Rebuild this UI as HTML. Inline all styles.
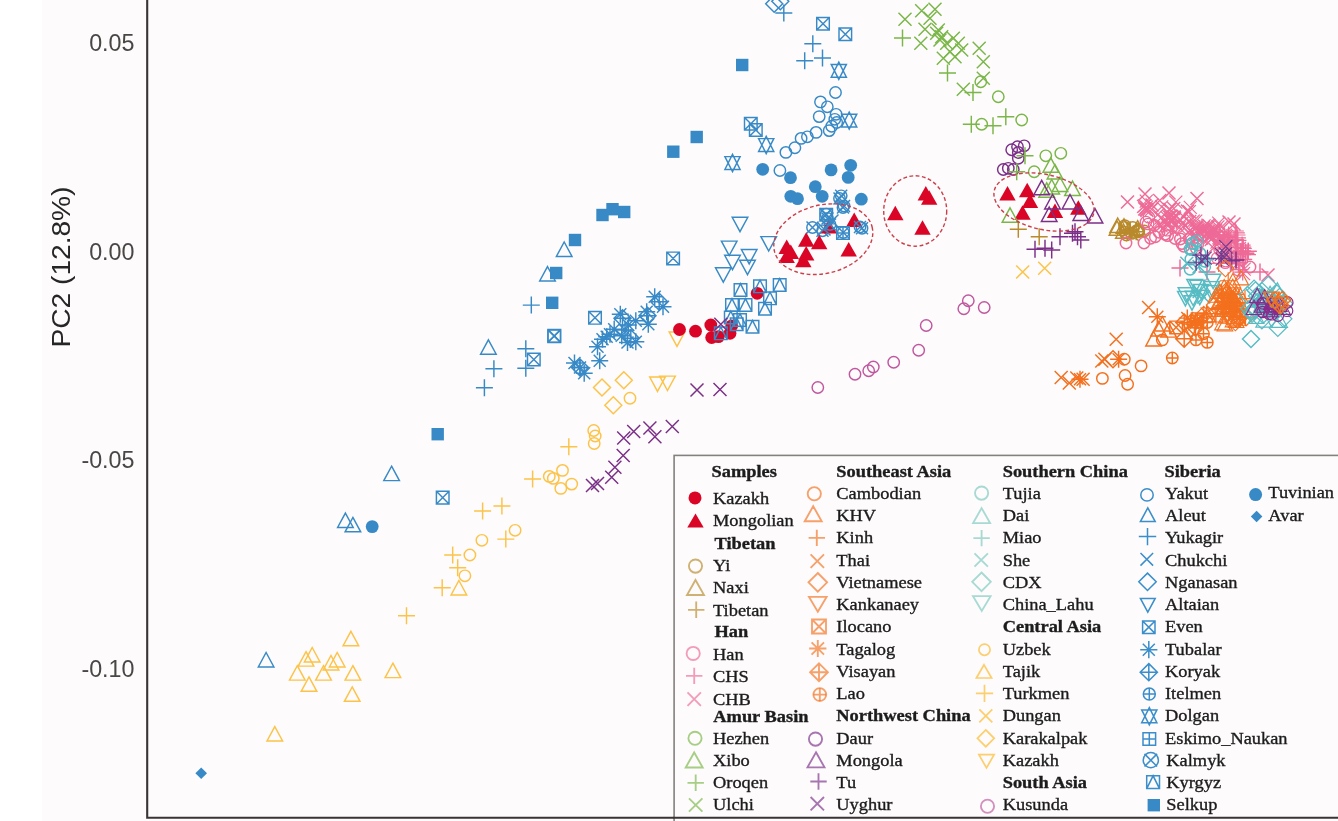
<!DOCTYPE html>
<html><head><meta charset="utf-8"><title>PCA</title>
<style>
html,body{margin:0;padding:0;background:#fdfbfb;}
body{width:1338px;height:821px;overflow:hidden;}
svg{display:block}
.ax{font-family:"Liberation Sans",sans-serif;fill:#4a4646;font-size:23.3px}
.leg text{font-family:"Liberation Serif",serif;font-size:17.2px;fill:#1c1c1c;stroke:#1c1c1c;stroke-width:0.35px}
</style></head><body>
<svg width="1338" height="821" viewBox="0 0 1338 821">
<rect width="1338" height="821" fill="#fdfbfb"/>
<rect width="42" height="821" fill="#ffffff"/>
<path d="M147.2 0V817.8H1338" fill="none" stroke="#393334" stroke-width="2.1"/>
<g class="ax">
<text x="134.5" y="51.1" text-anchor="end">0.05</text>
<text x="134.5" y="259.5" text-anchor="end">0.00</text>
<text x="134.5" y="468.2" text-anchor="end">-0.05</text>
<text x="134.5" y="677" text-anchor="end">-0.10</text>
<text transform="translate(70,347.5) rotate(-90)" font-size="25" fill="#262626" textLength="161" lengthAdjust="spacingAndGlyphs">PC2 (12.8%)</text>
</g>
<g>
<path d="M266.1 652.5L273.9 666.9H258.3Z" fill="none" stroke="#388ac7" stroke-width="1.45"/>
<path d="M201.2 767.5L207 773.3L201.2 779.1L195.4 773.3Z" fill="#388ac7"/>
<path d="M350.9 631.3L358.7 645.7H343.1Z" fill="none" stroke="#fcc348" stroke-width="1.45"/>
<path d="M312.2 647.5L320 661.9H304.4Z" fill="none" stroke="#fcc348" stroke-width="1.45"/>
<path d="M306 651.7L313.8 666.1H298.2Z" fill="none" stroke="#fcc348" stroke-width="1.45"/>
<path d="M337.2 652.5L345 666.9H329.4Z" fill="none" stroke="#fcc348" stroke-width="1.45"/>
<path d="M331 655.5L338.8 669.9H323.2Z" fill="none" stroke="#fcc348" stroke-width="1.45"/>
<path d="M297.3 665.7L305.1 680.1H289.5Z" fill="none" stroke="#fcc348" stroke-width="1.45"/>
<path d="M323.5 665.7L331.3 680.1H315.7Z" fill="none" stroke="#fcc348" stroke-width="1.45"/>
<path d="M352.9 665.7L360.7 680.1H345.1Z" fill="none" stroke="#fcc348" stroke-width="1.45"/>
<path d="M392.9 663.2L400.7 677.6H385.1Z" fill="none" stroke="#fcc348" stroke-width="1.45"/>
<path d="M309 676.9L316.8 691.3H301.2Z" fill="none" stroke="#fcc348" stroke-width="1.45"/>
<path d="M352.2 686.9L360 701.3H344.4Z" fill="none" stroke="#fcc348" stroke-width="1.45"/>
<path d="M274.8 726.6L282.6 741H267Z" fill="none" stroke="#fcc348" stroke-width="1.45"/>
<path d="M391.6 466.2L399.4 480.6H383.8Z" fill="none" stroke="#388ac7" stroke-width="1.45"/>
<path d="M345.4 513.1L353.2 527.5H337.6Z" fill="none" stroke="#388ac7" stroke-width="1.45"/>
<path d="M352.9 517.4L360.7 531.8H345.1Z" fill="none" stroke="#388ac7" stroke-width="1.45"/>
<circle cx="372.2" cy="526.6" r="6.4" fill="#388ac7"/>
<rect x="431.5" y="428" width="12.4" height="12.4" fill="#388ac7"/>
<path d="M436.4 491.3H449V503.9H436.4ZM436.4 491.3L449 503.9M436.4 503.9L449 491.3" fill="none" stroke="#388ac7" stroke-width="1.45"/>
<path d="M560.3 446.7H577.3M568.8 438.2V455.2" fill="none" stroke="#fcc348" stroke-width="1.45"/>
<path d="M524.1 478.9H541.1M532.6 470.4V487.4" fill="none" stroke="#fcc348" stroke-width="1.45"/>
<path d="M493.4 505.9H510.4M501.9 497.4V514.4" fill="none" stroke="#fcc348" stroke-width="1.45"/>
<path d="M474.1 510.9H491.1M482.6 502.4V519.4" fill="none" stroke="#fcc348" stroke-width="1.45"/>
<path d="M497.3 539.1H514.3M505.8 530.6V547.6" fill="none" stroke="#fcc348" stroke-width="1.45"/>
<path d="M444.2 555H461.2M452.7 546.5V563.5" fill="none" stroke="#fcc348" stroke-width="1.45"/>
<path d="M449.2 567.8H466.2M457.7 559.3V576.3" fill="none" stroke="#fcc348" stroke-width="1.45"/>
<path d="M433.7 587.7H450.7M442.2 579.2V596.2" fill="none" stroke="#fcc348" stroke-width="1.45"/>
<path d="M398 615.7H415M406.5 607.2V624.2" fill="none" stroke="#fcc348" stroke-width="1.45"/>
<circle cx="593.7" cy="430.5" r="5.7" fill="none" stroke="#fcc348" stroke-width="1.45"/>
<circle cx="595.2" cy="436" r="5.7" fill="none" stroke="#fcc348" stroke-width="1.45"/>
<circle cx="594.2" cy="443.5" r="5.7" fill="none" stroke="#fcc348" stroke-width="1.45"/>
<circle cx="562.5" cy="470.4" r="5.7" fill="none" stroke="#fcc348" stroke-width="1.45"/>
<circle cx="549.3" cy="476.4" r="5.7" fill="none" stroke="#fcc348" stroke-width="1.45"/>
<circle cx="553.3" cy="478.4" r="5.7" fill="none" stroke="#fcc348" stroke-width="1.45"/>
<circle cx="571.7" cy="484.1" r="5.7" fill="none" stroke="#fcc348" stroke-width="1.45"/>
<circle cx="560.8" cy="488.4" r="5.7" fill="none" stroke="#fcc348" stroke-width="1.45"/>
<circle cx="515.1" cy="530.3" r="5.7" fill="none" stroke="#fcc348" stroke-width="1.45"/>
<circle cx="481.9" cy="540.3" r="5.7" fill="none" stroke="#fcc348" stroke-width="1.45"/>
<circle cx="469.9" cy="555" r="5.7" fill="none" stroke="#fcc348" stroke-width="1.45"/>
<circle cx="464.9" cy="575.8" r="5.7" fill="none" stroke="#fcc348" stroke-width="1.45"/>
<path d="M458.9 580.5L466.7 594.9H451.1Z" fill="none" stroke="#fcc348" stroke-width="1.45"/>
<path d="M665.8 420L678.8 433M665.8 433L678.8 420" fill="none" stroke="#7b2f88" stroke-width="1.45"/>
<path d="M643.4 421.5L656.4 434.5M643.4 434.5L656.4 421.5" fill="none" stroke="#7b2f88" stroke-width="1.45"/>
<path d="M627.2 425L640.2 438M627.2 438L640.2 425" fill="none" stroke="#7b2f88" stroke-width="1.45"/>
<path d="M648.4 430.2L661.4 443.2M648.4 443.2L661.4 430.2" fill="none" stroke="#7b2f88" stroke-width="1.45"/>
<path d="M617.2 431.5L630.2 444.5M617.2 444.5L630.2 431.5" fill="none" stroke="#7b2f88" stroke-width="1.45"/>
<path d="M616.7 448.9L629.7 461.9M616.7 461.9L629.7 448.9" fill="none" stroke="#7b2f88" stroke-width="1.45"/>
<path d="M608.4 460.7L621.4 473.7M608.4 473.7L621.4 460.7" fill="none" stroke="#7b2f88" stroke-width="1.45"/>
<path d="M605.2 470.7L618.2 483.7M605.2 483.7L618.2 470.7" fill="none" stroke="#7b2f88" stroke-width="1.45"/>
<path d="M586 478.9L599 491.9M586 491.9L599 478.9" fill="none" stroke="#7b2f88" stroke-width="1.45"/>
<path d="M591 476.9L604 489.9M591 489.9L604 476.9" fill="none" stroke="#7b2f88" stroke-width="1.45"/>
<path d="M488.4 339.8L496.2 354.2H480.6Z" fill="none" stroke="#388ac7" stroke-width="1.45"/>
<path d="M522.8 305.1H539.8M531.3 296.6V313.6" fill="none" stroke="#388ac7" stroke-width="1.45"/>
<path d="M517.3 348.8H534.3M525.8 340.3V357.3" fill="none" stroke="#388ac7" stroke-width="1.45"/>
<path d="M485.4 368.8H502.4M493.9 360.3V377.3" fill="none" stroke="#388ac7" stroke-width="1.45"/>
<path d="M517.3 368.3H534.3M525.8 359.8V376.8" fill="none" stroke="#388ac7" stroke-width="1.45"/>
<path d="M475.9 387.7H492.9M484.4 379.2V396.2" fill="none" stroke="#388ac7" stroke-width="1.45"/>
<path d="M527.5 353.2H540.1V365.8H527.5ZM527.5 353.2L540.1 365.8M527.5 365.8L540.1 353.2" fill="none" stroke="#388ac7" stroke-width="1.45"/>
<path d="M548 329.5H560.6V342.1H548ZM548 329.5L560.6 342.1M548 342.1L560.6 329.5" fill="none" stroke="#388ac7" stroke-width="1.45"/>
<path d="M588.7 311.5H601.3V324.1H588.7ZM588.7 311.5L601.3 324.1M588.7 324.1L601.3 311.5" fill="none" stroke="#388ac7" stroke-width="1.45"/>
<path d="M666.8 252.1H679.4V264.7H666.8ZM666.8 252.1L679.4 264.7M666.8 264.7L679.4 252.1" fill="none" stroke="#388ac7" stroke-width="1.45"/>
<rect x="596.3" y="208.8" width="12.4" height="12.4" fill="#388ac7"/>
<rect x="606.3" y="203" width="12.4" height="12.4" fill="#388ac7"/>
<rect x="618" y="205.8" width="12.4" height="12.4" fill="#388ac7"/>
<rect x="568.8" y="233.8" width="12.4" height="12.4" fill="#388ac7"/>
<rect x="550" y="266.8" width="12.4" height="12.4" fill="#388ac7"/>
<rect x="546" y="296.6" width="12.4" height="12.4" fill="#388ac7"/>
<path d="M564.2 242L572 256.4H556.4Z" fill="none" stroke="#388ac7" stroke-width="1.45"/>
<path d="M547.5 266.6L555.3 281H539.7Z" fill="none" stroke="#388ac7" stroke-width="1.45"/>
<rect x="690.5" y="130.8" width="12.4" height="12.4" fill="#388ac7"/>
<rect x="667.1" y="145.5" width="12.4" height="12.4" fill="#388ac7"/>
<path d="M744.5 117.4H757.1V130H744.5ZM744.5 117.4L757.1 130M744.5 130L757.1 117.4" fill="none" stroke="#388ac7" stroke-width="1.45"/>
<path d="M749.5 123.7H762.1V136.3H749.5ZM749.5 123.7L762.1 136.3M749.5 136.3L762.1 123.7" fill="none" stroke="#388ac7" stroke-width="1.45"/>
<path d="M766.2 136.4L773.8 151.4H758.6ZM766.2 153.6L773.8 138.6H758.6Z" fill="none" stroke="#388ac7" stroke-width="1.45"/>
<path d="M732.5 154.4L740.1 169.4H724.9ZM732.5 171.6L740.1 156.6H724.9Z" fill="none" stroke="#388ac7" stroke-width="1.45"/>
<rect x="736" y="58.8" width="12.4" height="12.4" fill="#388ac7"/>
<path d="M774.2 -4.8L782.7 3.7L774.2 12.2L765.7 3.7Z" fill="none" stroke="#388ac7" stroke-width="1.45"/>
<path d="M780.3 -7.2L788.8 1.3L780.3 9.8L771.8 1.3Z" fill="none" stroke="#388ac7" stroke-width="1.45"/>
<path d="M646.2 296.7H663.2M654.7 288.2V305.2M648.7 290.7L660.7 302.7M648.7 302.7L660.7 290.7" fill="none" stroke="#388ac7" stroke-width="1.45"/>
<path d="M654.5 306.7H671.5M663 298.2V315.2M657 300.7L669 312.7M657 312.7L669 300.7" fill="none" stroke="#388ac7" stroke-width="1.45"/>
<path d="M611.8 314.2H628.8M620.3 305.7V322.7M614.3 308.2L626.3 320.2M614.3 320.2L626.3 308.2" fill="none" stroke="#388ac7" stroke-width="1.45"/>
<path d="M638.2 311.7H655.2M646.7 303.2V320.2M640.7 305.7L652.7 317.7M640.7 317.7L652.7 305.7" fill="none" stroke="#388ac7" stroke-width="1.45"/>
<path d="M639.8 324.2H656.8M648.3 315.7V332.7M642.3 318.2L654.3 330.2M642.3 330.2L654.3 318.2" fill="none" stroke="#388ac7" stroke-width="1.45"/>
<path d="M627.3 320.8H644.3M635.8 312.3V329.3M629.8 314.8L641.8 326.8M629.8 326.8L641.8 314.8" fill="none" stroke="#388ac7" stroke-width="1.45"/>
<path d="M619.8 325H636.8M628.3 316.5V333.5M622.3 319L634.3 331M622.3 331L634.3 319" fill="none" stroke="#388ac7" stroke-width="1.45"/>
<path d="M616.5 330H633.5M625 321.5V338.5M619 324L631 336M619 336L631 324" fill="none" stroke="#388ac7" stroke-width="1.45"/>
<path d="M605.7 329.2H622.7M614.2 320.7V337.7M608.2 323.2L620.2 335.2M608.2 335.2L620.2 323.2" fill="none" stroke="#388ac7" stroke-width="1.45"/>
<path d="M598.2 336.7H615.2M606.7 328.2V345.2M600.7 330.7L612.7 342.7M600.7 342.7L612.7 330.7" fill="none" stroke="#388ac7" stroke-width="1.45"/>
<path d="M594 339.2H611M602.5 330.7V347.7M596.5 333.2L608.5 345.2M596.5 345.2L608.5 333.2" fill="none" stroke="#388ac7" stroke-width="1.45"/>
<path d="M589 346.7H606M597.5 338.2V355.2M591.5 340.7L603.5 352.7M591.5 352.7L603.5 340.7" fill="none" stroke="#388ac7" stroke-width="1.45"/>
<path d="M619 342.5H636M627.5 334V351M621.5 336.5L633.5 348.5M621.5 348.5L633.5 336.5" fill="none" stroke="#388ac7" stroke-width="1.45"/>
<path d="M627.3 341.7H644.3M635.8 333.2V350.2M629.8 335.7L641.8 347.7M629.8 347.7L641.8 335.7" fill="none" stroke="#388ac7" stroke-width="1.45"/>
<path d="M591.2 360.8H608.2M599.7 352.3V369.3M593.7 354.8L605.7 366.8M593.7 366.8L605.7 354.8" fill="none" stroke="#388ac7" stroke-width="1.45"/>
<path d="M566 363H583M574.5 354.5V371.5M568.5 357L580.5 369M568.5 369L580.5 357" fill="none" stroke="#388ac7" stroke-width="1.45"/>
<path d="M571.5 367.5H588.5M580 359V376M574 361.5L586 373.5M574 373.5L586 361.5" fill="none" stroke="#388ac7" stroke-width="1.45"/>
<path d="M575.7 373.3H592.7M584.2 364.8V381.8M578.2 367.3L590.2 379.3M578.2 379.3L590.2 367.3" fill="none" stroke="#388ac7" stroke-width="1.45"/>
<path d="M601.5 334.2H618.5M610 325.7V342.7M604 328.2L616 340.2M604 340.2L616 328.2" fill="none" stroke="#388ac7" stroke-width="1.45"/>
<path d="M613.2 335.8H630.2M621.7 327.3V344.3M615.7 329.8L627.7 341.8M615.7 341.8L627.7 329.8" fill="none" stroke="#388ac7" stroke-width="1.45"/>
<path d="M547.9 329.9H560.5V342.5H547.9ZM547.9 329.9L560.5 342.5M547.9 342.5L560.5 329.9" fill="none" stroke="#388ac7" stroke-width="1.45"/>
<path d="M659.2 293.2L667.7 301.7L659.2 310.2L650.7 301.7ZM650.7 301.7H667.7M659.2 293.2V310.2" fill="none" stroke="#388ac7" stroke-width="1.45"/>
<path d="M622.5 309.8L631 318.3L622.5 326.8L614 318.3ZM614 318.3H631M622.5 309.8V326.8" fill="none" stroke="#388ac7" stroke-width="1.45"/>
<path d="M647.5 307.3L656 315.8L647.5 324.3L639 315.8ZM639 315.8H656M647.5 307.3V324.3" fill="none" stroke="#388ac7" stroke-width="1.45"/>
<path d="M630.8 329.8L639.3 338.3L630.8 346.8L622.3 338.3ZM622.3 338.3H639.3M630.8 329.8V346.8" fill="none" stroke="#388ac7" stroke-width="1.45"/>
<path d="M580 359L588.5 367.5L580 376L571.5 367.5ZM571.5 367.5H588.5M580 359V376" fill="none" stroke="#388ac7" stroke-width="1.45"/>
<path d="M623.8 371.8L632.3 380.3L623.8 388.8L615.3 380.3Z" fill="none" stroke="#fcc348" stroke-width="1.45"/>
<path d="M602 379L610.5 387.5L602 396L593.5 387.5Z" fill="none" stroke="#fcc348" stroke-width="1.45"/>
<path d="M613.3 396.8L621.8 405.3L613.3 413.8L604.8 405.3Z" fill="none" stroke="#fcc348" stroke-width="1.45"/>
<circle cx="630" cy="398.3" r="5.7" fill="none" stroke="#fcc348" stroke-width="1.45"/>
<path d="M677 346.4L684.8 332H669.2Z" fill="none" stroke="#fcc348" stroke-width="1.45"/>
<path d="M657.5 391.4L665.3 377H649.7Z" fill="none" stroke="#fcc348" stroke-width="1.45"/>
<path d="M667.5 390.5L675.3 376.1H659.7Z" fill="none" stroke="#fcc348" stroke-width="1.45"/>
<path d="M690.5 383.5L703.5 396.5M690.5 396.5L703.5 383.5" fill="none" stroke="#7b2f88" stroke-width="1.45"/>
<path d="M713.5 383L726.5 396M713.5 396L726.5 383" fill="none" stroke="#7b2f88" stroke-width="1.45"/>
<circle cx="679.5" cy="329.5" r="6.4" fill="#da0526"/>
<circle cx="695.5" cy="331.2" r="6.4" fill="#da0526"/>
<circle cx="710.8" cy="325" r="6.4" fill="#da0526"/>
<circle cx="711.7" cy="337.5" r="6.4" fill="#da0526"/>
<circle cx="718.3" cy="336.7" r="6.4" fill="#da0526"/>
<circle cx="730" cy="333.3" r="6.4" fill="#da0526"/>
<circle cx="731.7" cy="325.8" r="6.4" fill="#da0526"/>
<circle cx="757.2" cy="293.3" r="6.4" fill="#da0526"/>
<path d="M734.2 283.7H746.8V296.3H734.2ZM734.2 296.3L740.5 283.7L746.8 296.3" fill="none" stroke="#388ac7" stroke-width="1.45"/>
<path d="M753.7 280H766.3V292.6H753.7ZM753.7 292.6L760 280L766.3 292.6" fill="none" stroke="#388ac7" stroke-width="1.45"/>
<path d="M773.4 278.7H786V291.3H773.4ZM773.4 291.3L779.7 278.7L786 291.3" fill="none" stroke="#388ac7" stroke-width="1.45"/>
<path d="M763.7 292H776.3V304.6H763.7ZM763.7 304.6L770 292L776.3 304.6" fill="none" stroke="#388ac7" stroke-width="1.45"/>
<path d="M758.7 302.4H771.3V315H758.7ZM758.7 315L765 302.4L771.3 315" fill="none" stroke="#388ac7" stroke-width="1.45"/>
<path d="M725.7 298.7H738.3V311.3H725.7ZM725.7 311.3L732 298.7L738.3 311.3" fill="none" stroke="#388ac7" stroke-width="1.45"/>
<path d="M739.2 298.7H751.8V311.3H739.2ZM739.2 311.3L745.5 298.7L751.8 311.3" fill="none" stroke="#388ac7" stroke-width="1.45"/>
<path d="M724.5 311.2H737.1V323.8H724.5ZM724.5 323.8L730.8 311.2L737.1 323.8" fill="none" stroke="#388ac7" stroke-width="1.45"/>
<path d="M733.7 313.7H746.3V326.3H733.7ZM733.7 326.3L740 313.7L746.3 326.3" fill="none" stroke="#388ac7" stroke-width="1.45"/>
<path d="M730.4 317.9H743V330.5H730.4ZM730.4 330.5L736.7 317.9L743 330.5" fill="none" stroke="#388ac7" stroke-width="1.45"/>
<path d="M746.2 320.4H758.8V333H746.2ZM746.2 333L752.5 320.4L758.8 333" fill="none" stroke="#388ac7" stroke-width="1.45"/>
<path d="M714.5 327H727.1V339.6H714.5ZM714.5 339.6L720.8 327L727.1 339.6" fill="none" stroke="#388ac7" stroke-width="1.45"/>
<path d="M714.3 317.7L727.3 330.7M714.3 330.7L727.3 317.7" fill="none" stroke="#7b2f88" stroke-width="1.45"/>
<path d="M740 231.7L747.8 217.3H732.2Z" fill="none" stroke="#388ac7" stroke-width="1.45"/>
<path d="M768.7 251L776.5 236.6H760.9Z" fill="none" stroke="#388ac7" stroke-width="1.45"/>
<path d="M729.2 255.5L737 241.1H721.4Z" fill="none" stroke="#388ac7" stroke-width="1.45"/>
<path d="M749.2 263.9L757 249.5H741.4Z" fill="none" stroke="#388ac7" stroke-width="1.45"/>
<path d="M732.5 269.7L740.3 255.3H724.7Z" fill="none" stroke="#388ac7" stroke-width="1.45"/>
<path d="M747.5 274.7L755.3 260.3H739.7Z" fill="none" stroke="#388ac7" stroke-width="1.45"/>
<path d="M723.3 282.2L731.1 267.8H715.5Z" fill="none" stroke="#388ac7" stroke-width="1.45"/>
<circle cx="817.8" cy="387.5" r="5.7" fill="none" stroke="#c0579f" stroke-width="1.45"/>
<circle cx="855" cy="374.2" r="5.7" fill="none" stroke="#c0579f" stroke-width="1.45"/>
<circle cx="868.7" cy="370.8" r="5.7" fill="none" stroke="#c0579f" stroke-width="1.45"/>
<circle cx="873.3" cy="367" r="5.7" fill="none" stroke="#c0579f" stroke-width="1.45"/>
<circle cx="893.7" cy="362.2" r="5.7" fill="none" stroke="#c0579f" stroke-width="1.45"/>
<circle cx="918.7" cy="350.3" r="5.7" fill="none" stroke="#c0579f" stroke-width="1.45"/>
<circle cx="926.2" cy="325.5" r="5.7" fill="none" stroke="#c0579f" stroke-width="1.45"/>
<circle cx="963.8" cy="308.8" r="5.7" fill="none" stroke="#c0579f" stroke-width="1.45"/>
<circle cx="968.3" cy="300.8" r="5.7" fill="none" stroke="#c0579f" stroke-width="1.45"/>
<circle cx="984.2" cy="307.5" r="5.7" fill="none" stroke="#c0579f" stroke-width="1.45"/>
<path d="M775.3 13H792.3M783.8 4.5V21.5" fill="none" stroke="#388ac7" stroke-width="1.45"/>
<path d="M804.3 43.7H821.3M812.8 35.2V52.2" fill="none" stroke="#388ac7" stroke-width="1.45"/>
<path d="M796.2 60.8H813.2M804.7 52.3V69.3" fill="none" stroke="#388ac7" stroke-width="1.45"/>
<path d="M814 58H831M822.5 49.5V66.5" fill="none" stroke="#388ac7" stroke-width="1.45"/>
<path d="M816.7 17.4H829.3V30H816.7ZM816.7 17.4L829.3 30M816.7 30L829.3 17.4" fill="none" stroke="#388ac7" stroke-width="1.45"/>
<path d="M839 27.9H851.6V40.5H839ZM839 27.9L851.6 40.5M839 40.5L851.6 27.9" fill="none" stroke="#388ac7" stroke-width="1.45"/>
<path d="M838.8 62.2L846.4 77.2H831.2ZM838.8 79.4L846.4 64.4H831.2Z" fill="none" stroke="#388ac7" stroke-width="1.45"/>
<path d="M849.2 112L856.8 127H841.6ZM849.2 129.2L856.8 114.2H841.6Z" fill="none" stroke="#388ac7" stroke-width="1.45"/>
<circle cx="835.5" cy="92.5" r="5.7" fill="none" stroke="#388ac7" stroke-width="1.45"/>
<circle cx="820.5" cy="101.9" r="5.7" fill="none" stroke="#388ac7" stroke-width="1.45"/>
<circle cx="827.3" cy="106.8" r="5.7" fill="none" stroke="#388ac7" stroke-width="1.45"/>
<circle cx="819.2" cy="116.6" r="5.7" fill="none" stroke="#388ac7" stroke-width="1.45"/>
<circle cx="836.1" cy="114.3" r="5.7" fill="none" stroke="#388ac7" stroke-width="1.45"/>
<circle cx="834.8" cy="119.3" r="5.7" fill="none" stroke="#388ac7" stroke-width="1.45"/>
<circle cx="836.7" cy="122.5" r="5.7" fill="none" stroke="#388ac7" stroke-width="1.45"/>
<circle cx="831.7" cy="126.2" r="5.7" fill="none" stroke="#388ac7" stroke-width="1.45"/>
<circle cx="829.2" cy="130.6" r="5.7" fill="none" stroke="#388ac7" stroke-width="1.45"/>
<circle cx="816.1" cy="132.4" r="5.7" fill="none" stroke="#388ac7" stroke-width="1.45"/>
<circle cx="807.4" cy="136.8" r="5.7" fill="none" stroke="#388ac7" stroke-width="1.45"/>
<circle cx="801.1" cy="138.4" r="5.7" fill="none" stroke="#388ac7" stroke-width="1.45"/>
<circle cx="794.9" cy="147.7" r="5.7" fill="none" stroke="#388ac7" stroke-width="1.45"/>
<circle cx="785.9" cy="152.4" r="5.7" fill="none" stroke="#388ac7" stroke-width="1.45"/>
<circle cx="779.9" cy="170.5" r="5.7" fill="none" stroke="#388ac7" stroke-width="1.45"/>
<circle cx="762.7" cy="169.3" r="6.4" fill="#388ac7"/>
<circle cx="790.5" cy="177.7" r="6.4" fill="#388ac7"/>
<circle cx="831.1" cy="169.9" r="6.4" fill="#388ac7"/>
<circle cx="850.7" cy="165.3" r="6.4" fill="#388ac7"/>
<circle cx="848.2" cy="177.4" r="6.4" fill="#388ac7"/>
<circle cx="815.3" cy="186.7" r="6.4" fill="#388ac7"/>
<circle cx="822.2" cy="196.3" r="6.4" fill="#388ac7"/>
<circle cx="790.8" cy="196.3" r="6.4" fill="#388ac7"/>
<circle cx="797.5" cy="198.7" r="6.4" fill="#388ac7"/>
<circle cx="861.3" cy="199.2" r="6.4" fill="#388ac7"/>
<circle cx="841.2" cy="195.8" r="5.7" fill="none" stroke="#388ac7" stroke-width="1.45"/><path d="M835.2 189.8L847.2 201.8M835.2 201.8L847.2 189.8" fill="none" stroke="#388ac7" stroke-width="1.45"/>
<circle cx="843" cy="207.5" r="5.7" fill="none" stroke="#388ac7" stroke-width="1.45"/><path d="M837 201.5L849 213.5M837 213.5L849 201.5" fill="none" stroke="#388ac7" stroke-width="1.45"/>
<circle cx="826.2" cy="214.2" r="5.7" fill="none" stroke="#388ac7" stroke-width="1.45"/><path d="M820.2 208.2L832.2 220.2M820.2 220.2L832.2 208.2" fill="none" stroke="#388ac7" stroke-width="1.45"/>
<circle cx="812.5" cy="227.5" r="5.7" fill="none" stroke="#388ac7" stroke-width="1.45"/><path d="M806.5 221.5L818.5 233.5M806.5 233.5L818.5 221.5" fill="none" stroke="#388ac7" stroke-width="1.45"/>
<circle cx="822.5" cy="230.8" r="5.7" fill="none" stroke="#388ac7" stroke-width="1.45"/><path d="M816.5 224.8L828.5 236.8M816.5 236.8L828.5 224.8" fill="none" stroke="#388ac7" stroke-width="1.45"/>
<circle cx="843.3" cy="232.5" r="5.7" fill="none" stroke="#388ac7" stroke-width="1.45"/><path d="M837.3 226.5L849.3 238.5M837.3 238.5L849.3 226.5" fill="none" stroke="#388ac7" stroke-width="1.45"/>
<circle cx="862" cy="228.3" r="5.7" fill="none" stroke="#388ac7" stroke-width="1.45"/><path d="M856 222.3L868 234.3M856 234.3L868 222.3" fill="none" stroke="#388ac7" stroke-width="1.45"/>
<path d="M854.2 212.4L862.4 227H846Z" fill="#da0526"/>
<path d="M828.7 219L836.9 233.6H820.5Z" fill="#da0526"/>
<path d="M806.2 232.2L814.4 246.8H798Z" fill="#da0526"/>
<path d="M819.2 234.7L827.4 249.3H811Z" fill="#da0526"/>
<path d="M848.7 241.9L856.9 256.5H840.5Z" fill="#da0526"/>
<path d="M786.7 239.4L794.9 254H778.5Z" fill="#da0526"/>
<path d="M790.8 244.4L799 259H782.6Z" fill="#da0526"/>
<path d="M786.7 248.5L794.9 263.1H778.5Z" fill="#da0526"/>
<path d="M806.2 246L814.4 260.6H798Z" fill="#da0526"/>
<path d="M803.3 252.7L811.5 267.3H795.1Z" fill="#da0526"/>
<path d="M819.9 208.4H832.5V221H819.9ZM819.9 208.4L832.5 221M819.9 221L832.5 208.4" fill="none" stroke="#388ac7" stroke-width="1.45"/>
<circle cx="827.5" cy="218.5" r="5.7" fill="none" stroke="#388ac7" stroke-width="1.45"/><path d="M821.5 212.5L833.5 224.5M821.5 224.5L833.5 212.5" fill="none" stroke="#388ac7" stroke-width="1.45"/>
<circle cx="830" cy="224.5" r="5.7" fill="none" stroke="#388ac7" stroke-width="1.45"/><path d="M824 218.5L836 230.5M824 230.5L836 218.5" fill="none" stroke="#388ac7" stroke-width="1.45"/>
<circle cx="860" cy="227" r="5.7" fill="none" stroke="#388ac7" stroke-width="1.45"/><path d="M854 221L866 233M854 233L866 221" fill="none" stroke="#388ac7" stroke-width="1.45"/>
<circle cx="839.5" cy="198.5" r="5.7" fill="none" stroke="#388ac7" stroke-width="1.45"/><path d="M833.5 192.5L845.5 204.5M833.5 204.5L845.5 192.5" fill="none" stroke="#388ac7" stroke-width="1.45"/>
<circle cx="844" cy="206" r="5.7" fill="none" stroke="#388ac7" stroke-width="1.45"/><path d="M838 200L850 212M838 212L850 200" fill="none" stroke="#388ac7" stroke-width="1.45"/>
<path d="M825.5 214.5L838.5 227.5M825.5 227.5L838.5 214.5" fill="none" stroke="#388ac7" stroke-width="1.45"/>
<path d="M836.7 226.7H849.3V239.3H836.7ZM836.7 233H849.3M843 226.7V239.3" fill="none" stroke="#388ac7" stroke-width="1.45"/>
<path d="M817.5 222.5L830.5 235.5M817.5 235.5L830.5 222.5" fill="none" stroke="#388ac7" stroke-width="1.45"/>
<path d="M925.8 186L934 200.6H917.6Z" fill="#da0526"/>
<path d="M929.2 190.2L937.4 204.8H921Z" fill="#da0526"/>
<path d="M895.3 205.7L903.5 220.3H887.1Z" fill="#da0526"/>
<path d="M922.5 220.2L930.7 234.8H914.3Z" fill="#da0526"/>
<path d="M1007.5 186L1015.7 200.6H999.3Z" fill="#da0526"/>
<path d="M1027.2 182.7L1035.4 197.3H1019Z" fill="#da0526"/>
<path d="M1030 193.5L1038.2 208.1H1021.8Z" fill="#da0526"/>
<path d="M1022.5 205.2L1030.7 219.8H1014.3Z" fill="#da0526"/>
<path d="M1055 203.5L1063.2 218.1H1046.8Z" fill="#da0526"/>
<path d="M1078.3 200.2L1086.5 214.8H1070.1Z" fill="#da0526"/>
<circle cx="1011.7" cy="149.7" r="5.7" fill="none" stroke="#7b2f88" stroke-width="1.45"/>
<circle cx="1017.5" cy="146.7" r="5.7" fill="none" stroke="#7b2f88" stroke-width="1.45"/>
<circle cx="1024.2" cy="145.8" r="5.7" fill="none" stroke="#7b2f88" stroke-width="1.45"/>
<circle cx="1018.3" cy="152.5" r="5.7" fill="none" stroke="#7b2f88" stroke-width="1.45"/>
<circle cx="1018.3" cy="158.3" r="5.7" fill="none" stroke="#7b2f88" stroke-width="1.45"/>
<circle cx="1003.3" cy="169.5" r="5.7" fill="none" stroke="#7b2f88" stroke-width="1.45"/>
<circle cx="1008.3" cy="168.3" r="5.7" fill="none" stroke="#7b2f88" stroke-width="1.45"/>
<circle cx="1013.3" cy="169.5" r="5.7" fill="none" stroke="#7b2f88" stroke-width="1.45"/>
<circle cx="1045.8" cy="155.8" r="5.7" fill="none" stroke="#7ab648" stroke-width="1.45"/>
<circle cx="1060.8" cy="153.3" r="5.7" fill="none" stroke="#7ab648" stroke-width="1.45"/>
<circle cx="1034.2" cy="171.7" r="5.7" fill="none" stroke="#7ab648" stroke-width="1.45"/>
<path d="M1050.8 157.8L1058.6 172.2H1043Z" fill="none" stroke="#7ab648" stroke-width="1.45"/>
<path d="M1055 164.5L1062.8 178.9H1047.2Z" fill="none" stroke="#7ab648" stroke-width="1.45"/>
<path d="M1051.7 179.5L1059.5 193.9H1043.9Z" fill="none" stroke="#7ab648" stroke-width="1.45"/>
<path d="M1060 177L1067.8 191.4H1052.2Z" fill="none" stroke="#7ab648" stroke-width="1.45"/>
<path d="M1072.5 181.1L1080.3 195.5H1064.7Z" fill="none" stroke="#7ab648" stroke-width="1.45"/>
<path d="M1010 207.8L1017.8 222.2H1002.2Z" fill="none" stroke="#7ab648" stroke-width="1.45"/>
<path d="M1046.7 182.8L1054.5 197.2H1038.9Z" fill="none" stroke="#7ab648" stroke-width="1.45"/>
<path d="M1041.7 180.3L1049.5 194.7H1033.9Z" fill="none" stroke="#7b2f88" stroke-width="1.45"/>
<path d="M1052.5 194.5L1060.3 208.9H1044.7Z" fill="none" stroke="#7b2f88" stroke-width="1.45"/>
<path d="M1070 194.5L1077.8 208.9H1062.2Z" fill="none" stroke="#7b2f88" stroke-width="1.45"/>
<path d="M1049.2 207L1057 221.4H1041.4Z" fill="none" stroke="#7b2f88" stroke-width="1.45"/>
<path d="M1080.8 206.1L1088.6 220.5H1073Z" fill="none" stroke="#7b2f88" stroke-width="1.45"/>
<path d="M1051.5 236.7H1068.5M1060 228.2V245.2" fill="none" stroke="#7b2f88" stroke-width="1.45"/>
<path d="M1064 233.3H1081M1072.5 224.8V241.8" fill="none" stroke="#7b2f88" stroke-width="1.45"/>
<path d="M1069 236.7H1086M1077.5 228.2V245.2" fill="none" stroke="#7b2f88" stroke-width="1.45"/>
<path d="M1072.3 240H1089.3M1080.8 231.5V248.5" fill="none" stroke="#7b2f88" stroke-width="1.45"/>
<path d="M1026.5 249.2H1043.5M1035 240.7V257.7" fill="none" stroke="#7b2f88" stroke-width="1.45"/>
<path d="M1036.5 248.3H1053.5M1045 239.8V256.8" fill="none" stroke="#7b2f88" stroke-width="1.45"/>
<path d="M1043.2 250H1060.2M1051.7 241.5V258.5" fill="none" stroke="#7b2f88" stroke-width="1.45"/>
<path d="M1066.5 231.7H1083.5M1075 223.2V240.2" fill="none" stroke="#7b2f88" stroke-width="1.45"/>
<path d="M1009.8 229.2H1026.8M1018.3 220.7V237.7" fill="none" stroke="#b88a2c" stroke-width="1.45"/>
<path d="M1030.7 236.7H1047.7M1039.2 228.2V245.2" fill="none" stroke="#b88a2c" stroke-width="1.45"/>
<path d="M1016.5 155.8H1033.5M1025 147.3V164.3" fill="none" stroke="#7ab648" stroke-width="1.45"/>
<path d="M1008.2 171.7H1025.2M1016.7 163.2V180.2" fill="none" stroke="#7ab648" stroke-width="1.45"/>
<path d="M1095 208.6L1102.8 223H1087.2Z" fill="none" stroke="#7b2f88" stroke-width="1.45"/>
<path d="M898.5 12.7L911.5 25.7M898.5 25.7L911.5 12.7" fill="none" stroke="#7ab648" stroke-width="1.45"/>
<path d="M915.2 4.3L928.2 17.3M915.2 17.3L928.2 4.3" fill="none" stroke="#7ab648" stroke-width="1.45"/>
<path d="M928.5 2.7L941.5 15.7M928.5 15.7L941.5 2.7" fill="none" stroke="#7ab648" stroke-width="1.45"/>
<path d="M923.5 11.8L936.5 24.8M923.5 24.8L936.5 11.8" fill="none" stroke="#7ab648" stroke-width="1.45"/>
<path d="M918.5 22.7L931.5 35.7M918.5 35.7L931.5 22.7" fill="none" stroke="#7ab648" stroke-width="1.45"/>
<path d="M914.3 36.8L927.3 49.8M914.3 49.8L927.3 36.8" fill="none" stroke="#7ab648" stroke-width="1.45"/>
<path d="M930.2 26.8L943.2 39.8M930.2 39.8L943.2 26.8" fill="none" stroke="#7ab648" stroke-width="1.45"/>
<path d="M935.2 30.2L948.2 43.2M935.2 43.2L948.2 30.2" fill="none" stroke="#7ab648" stroke-width="1.45"/>
<path d="M946.8 31.8L959.8 44.8M946.8 44.8L959.8 31.8" fill="none" stroke="#7ab648" stroke-width="1.45"/>
<path d="M951.8 36.8L964.8 49.8M951.8 49.8L964.8 36.8" fill="none" stroke="#7ab648" stroke-width="1.45"/>
<path d="M955.2 43.5L968.2 56.5M955.2 56.5L968.2 43.5" fill="none" stroke="#7ab648" stroke-width="1.45"/>
<path d="M943.5 45.2L956.5 58.2M943.5 58.2L956.5 45.2" fill="none" stroke="#7ab648" stroke-width="1.45"/>
<path d="M948.5 50.2L961.5 63.2M948.5 63.2L961.5 50.2" fill="none" stroke="#7ab648" stroke-width="1.45"/>
<path d="M972.7 41.8L985.7 54.8M972.7 54.8L985.7 41.8" fill="none" stroke="#7ab648" stroke-width="1.45"/>
<path d="M976.8 55.2L989.8 68.2M976.8 68.2L989.8 55.2" fill="none" stroke="#7ab648" stroke-width="1.45"/>
<path d="M976.8 71.8L989.8 84.8M976.8 84.8L989.8 71.8" fill="none" stroke="#7ab648" stroke-width="1.45"/>
<path d="M956.8 82.7L969.8 95.7M956.8 95.7L969.8 82.7" fill="none" stroke="#7ab648" stroke-width="1.45"/>
<path d="M936.8 51.8L949.8 64.8M936.8 64.8L949.8 51.8" fill="none" stroke="#7ab648" stroke-width="1.45"/>
<path d="M931.8 23.5L944.8 36.5M931.8 36.5L944.8 23.5" fill="none" stroke="#7ab648" stroke-width="1.45"/>
<path d="M940.2 36.8L953.2 49.8M940.2 49.8L953.2 36.8" fill="none" stroke="#7ab648" stroke-width="1.45"/>
<path d="M933.5 33.5L946.5 46.5M933.5 46.5L946.5 33.5" fill="none" stroke="#7ab648" stroke-width="1.45"/>
<path d="M894 38H911M902.5 29.5V46.5" fill="none" stroke="#7ab648" stroke-width="1.45"/>
<path d="M939 73H956M947.5 64.5V81.5" fill="none" stroke="#7ab648" stroke-width="1.45"/>
<path d="M964.5 92.5H981.5M973 84V101" fill="none" stroke="#7ab648" stroke-width="1.45"/>
<path d="M962.8 124.2H979.8M971.3 115.7V132.7" fill="none" stroke="#7ab648" stroke-width="1.45"/>
<path d="M984.5 125.8H1001.5M993 117.3V134.3" fill="none" stroke="#7ab648" stroke-width="1.45"/>
<path d="M997.3 116.7H1014.3M1005.8 108.2V125.2" fill="none" stroke="#7ab648" stroke-width="1.45"/>
<circle cx="980.8" cy="81.7" r="5.7" fill="none" stroke="#7ab648" stroke-width="1.45"/>
<circle cx="998.3" cy="96.7" r="5.7" fill="none" stroke="#7ab648" stroke-width="1.45"/>
<circle cx="981.7" cy="124.2" r="5.7" fill="none" stroke="#7ab648" stroke-width="1.45"/>
<circle cx="1021.7" cy="120" r="5.7" fill="none" stroke="#7ab648" stroke-width="1.45"/>
<path d="M1016.2 265.4L1029.2 278.4M1016.2 278.4L1029.2 265.4" fill="none" stroke="#fcc348" stroke-width="1.45"/>
<path d="M1038.2 261.7L1051.2 274.7M1038.2 274.7L1051.2 261.7" fill="none" stroke="#fcc348" stroke-width="1.45"/>
<path d="M1142.1 301L1155.1 314M1142.1 314L1155.1 301" fill="none" stroke="#f3701e" stroke-width="1.45"/>
<path d="M1109.7 332.8L1122.7 345.8M1109.7 345.8L1122.7 332.8" fill="none" stroke="#f3701e" stroke-width="1.45"/>
<path d="M1095.3 354.6L1108.3 367.6M1095.3 367.6L1108.3 354.6" fill="none" stroke="#f3701e" stroke-width="1.45"/>
<path d="M1098.4 352.8L1111.4 365.8M1098.4 365.8L1111.4 352.8" fill="none" stroke="#f3701e" stroke-width="1.45"/>
<path d="M1054.7 370.9L1067.7 383.9M1054.7 383.9L1067.7 370.9" fill="none" stroke="#f3701e" stroke-width="1.45"/>
<path d="M1062.8 376.5L1075.8 389.5M1062.8 389.5L1075.8 376.5" fill="none" stroke="#f3701e" stroke-width="1.45"/>
<path d="M1070.3 371.5L1083.3 384.5M1070.3 384.5L1083.3 371.5" fill="none" stroke="#f3701e" stroke-width="1.45"/>
<path d="M1076.6 372.7L1089.6 385.7M1076.6 385.7L1089.6 372.7" fill="none" stroke="#f3701e" stroke-width="1.45"/>
<path d="M1148.8 316.8H1165.8M1157.3 308.3V325.3M1151.3 310.8L1163.3 322.8M1151.3 322.8L1163.3 310.8" fill="none" stroke="#f3701e" stroke-width="1.45"/>
<path d="M1110.1 359.3H1127.1M1118.6 350.8V367.8M1112.6 353.3L1124.6 365.3M1112.6 365.3L1124.6 353.3" fill="none" stroke="#f3701e" stroke-width="1.45"/>
<path d="M1071.5 379.2H1088.5M1080 370.7V387.7M1074 373.2L1086 385.2M1074 385.2L1086 373.2" fill="none" stroke="#f3701e" stroke-width="1.45"/>
<path d="M1178.8 318.1H1195.8M1187.3 309.6V326.6M1181.3 312.1L1193.3 324.1M1181.3 324.1L1193.3 312.1" fill="none" stroke="#f3701e" stroke-width="1.45"/>
<path d="M1186.9 321.2H1203.9M1195.4 312.7V329.7M1189.4 315.2L1201.4 327.2M1189.4 327.2L1201.4 315.2" fill="none" stroke="#f3701e" stroke-width="1.45"/>
<circle cx="1141.1" cy="365.9" r="5.7" fill="none" stroke="#f3701e" stroke-width="1.45"/>
<circle cx="1102.4" cy="378.4" r="5.7" fill="none" stroke="#f3701e" stroke-width="1.45"/>
<circle cx="1125.1" cy="375.5" r="5.7" fill="none" stroke="#f3701e" stroke-width="1.45"/>
<circle cx="1127.6" cy="384.2" r="5.7" fill="none" stroke="#f3701e" stroke-width="1.45"/>
<circle cx="1124.3" cy="359.3" r="5.7" fill="none" stroke="#f3701e" stroke-width="1.45"/>
<circle cx="1162.3" cy="339.9" r="5.7" fill="none" stroke="#f3701e" stroke-width="1.45"/>
<circle cx="1172.3" cy="358" r="5.7" fill="none" stroke="#f3701e" stroke-width="1.45"/><path d="M1166.6 358H1178M1172.3 352.3V363.7" fill="none" stroke="#f3701e" stroke-width="1.45"/>
<circle cx="1196" cy="339.9" r="5.7" fill="none" stroke="#f3701e" stroke-width="1.45"/><path d="M1190.3 339.9H1201.7M1196 334.2V345.6" fill="none" stroke="#f3701e" stroke-width="1.45"/>
<circle cx="1207.3" cy="342.4" r="5.7" fill="none" stroke="#f3701e" stroke-width="1.45"/><path d="M1201.6 342.4H1213M1207.3 336.7V348.1" fill="none" stroke="#f3701e" stroke-width="1.45"/>
<circle cx="1203.5" cy="333.7" r="5.7" fill="none" stroke="#f3701e" stroke-width="1.45"/><path d="M1197.8 333.7H1209.2M1203.5 328V339.4" fill="none" stroke="#f3701e" stroke-width="1.45"/>
<circle cx="1207.3" cy="322.5" r="5.7" fill="none" stroke="#f3701e" stroke-width="1.45"/><path d="M1201.6 322.5H1213M1207.3 316.8V328.2" fill="none" stroke="#f3701e" stroke-width="1.45"/>
<path d="M1184.2 330.2L1192.7 338.7L1184.2 347.2L1175.7 338.7ZM1175.7 338.7H1192.7M1184.2 330.2V347.2" fill="none" stroke="#f3701e" stroke-width="1.45"/>
<path d="M1184.2 314L1192.7 322.5L1184.2 331L1175.7 322.5ZM1175.7 322.5H1192.7M1184.2 314V331" fill="none" stroke="#f3701e" stroke-width="1.45"/>
<path d="M1195.4 318.9L1203.9 327.4L1195.4 335.9L1186.9 327.4ZM1186.9 327.4H1203.9M1195.4 318.9V335.9" fill="none" stroke="#f3701e" stroke-width="1.45"/>
<path d="M1113 350.8L1121.5 359.3L1113 367.8L1104.5 359.3Z" fill="none" stroke="#f3701e" stroke-width="1.45"/>
<path d="M1153.6 331.5L1161.4 345.9H1145.8Z" fill="none" stroke="#f3701e" stroke-width="1.45"/>
<path d="M1158.6 321.5L1166.4 335.9H1150.8Z" fill="none" stroke="#f3701e" stroke-width="1.45"/>
<path d="M1162.3 316.5L1170.1 330.9H1154.5Z" fill="none" stroke="#f3701e" stroke-width="1.45"/>
<path d="M1168.6 322.7L1176.4 337.1H1160.8Z" fill="none" stroke="#f3701e" stroke-width="1.45"/>
<path d="M1185.4 305.9L1193.2 291.5H1177.6Z" fill="none" stroke="#56bcc4" stroke-width="1.45"/>
<path d="M1199.8 304.7L1207.6 290.3H1192Z" fill="none" stroke="#56bcc4" stroke-width="1.45"/>
<path d="M1169.8 321.1H1182.4V333.7H1169.8ZM1169.8 321.1L1182.4 333.7M1169.8 333.7L1182.4 321.1" fill="none" stroke="#f3701e" stroke-width="1.45"/>
<path d="M1191 338.4L1198.8 324H1183.2Z" fill="none" stroke="#f3701e" stroke-width="1.45"/>
<path d="M1137.6 220.7L1145.4 235.1H1129.8Z" fill="none" stroke="#b88a2c" stroke-width="1.45"/>
<circle cx="1138.8" cy="230.9" r="5.7" fill="none" stroke="#b88a2c" stroke-width="1.45"/>
<path d="M1117.7 218L1125.5 232.4H1109.9Z" fill="none" stroke="#b88a2c" stroke-width="1.45"/>
<circle cx="1138.3" cy="229.9" r="5.7" fill="none" stroke="#b88a2c" stroke-width="1.45"/>
<circle cx="1131.5" cy="233.4" r="5.7" fill="none" stroke="#b88a2c" stroke-width="1.45"/>
<circle cx="1132.7" cy="227.4" r="5.7" fill="none" stroke="#b88a2c" stroke-width="1.45"/>
<circle cx="1124.7" cy="225.6" r="5.7" fill="none" stroke="#b88a2c" stroke-width="1.45"/>
<circle cx="1124.8" cy="227.4" r="5.7" fill="none" stroke="#b88a2c" stroke-width="1.45"/>
<circle cx="1144.3" cy="231" r="5.7" fill="none" stroke="#b88a2c" stroke-width="1.45"/>
<path d="M1123.4 223.9L1131.2 238.3H1115.6Z" fill="none" stroke="#b88a2c" stroke-width="1.45"/>
<circle cx="1126.4" cy="235" r="5.7" fill="none" stroke="#b88a2c" stroke-width="1.45"/>
<circle cx="1138.3" cy="231.7" r="5.7" fill="none" stroke="#b88a2c" stroke-width="1.45"/>
<circle cx="1124.9" cy="232.2" r="5.7" fill="none" stroke="#b88a2c" stroke-width="1.45"/>
<path d="M1117 220.8L1124.8 235.2H1109.2Z" fill="none" stroke="#b88a2c" stroke-width="1.45"/>
<path d="M1124 218.8L1131.8 233.2H1116.2Z" fill="none" stroke="#b88a2c" stroke-width="1.45"/>
<path d="M1121.7 229.9H1138.7M1130.2 221.4V238.4" fill="none" stroke="#b88a2c" stroke-width="1.45"/>
<path d="M1126.2 222.6L1139.2 235.6M1126.2 235.6L1139.2 222.6" fill="none" stroke="#b88a2c" stroke-width="1.45"/>
<path d="M1120.9 225.5L1133.9 238.5M1120.9 238.5L1133.9 225.5" fill="none" stroke="#b88a2c" stroke-width="1.45"/>
<path d="M1125.9 227.9L1138.9 240.9M1125.9 240.9L1138.9 227.9" fill="none" stroke="#b88a2c" stroke-width="1.45"/>
<path d="M1127.7 231.8H1144.7M1136.2 223.3V240.3" fill="none" stroke="#b88a2c" stroke-width="1.45"/>
<circle cx="1126" cy="243" r="5.7" fill="none" stroke="#ee6a97" stroke-width="1.45"/>
<circle cx="1144" cy="243" r="5.7" fill="none" stroke="#ee6a97" stroke-width="1.45"/>
<circle cx="1175.2" cy="238.5" r="5.7" fill="none" stroke="#ee6a97" stroke-width="1.45"/>
<circle cx="1155.3" cy="236.8" r="5.7" fill="none" stroke="#ee6a97" stroke-width="1.45"/>
<circle cx="1159.1" cy="232.2" r="5.7" fill="none" stroke="#ee6a97" stroke-width="1.45"/>
<circle cx="1150.6" cy="238.2" r="5.7" fill="none" stroke="#ee6a97" stroke-width="1.45"/>
<circle cx="1189.5" cy="239.3" r="5.7" fill="none" stroke="#ee6a97" stroke-width="1.45"/>
<circle cx="1167.6" cy="235.6" r="5.7" fill="none" stroke="#ee6a97" stroke-width="1.45"/>
<circle cx="1180.4" cy="239" r="5.7" fill="none" stroke="#ee6a97" stroke-width="1.45"/>
<circle cx="1197.6" cy="244.9" r="5.7" fill="none" stroke="#ee6a97" stroke-width="1.45"/>
<circle cx="1183.8" cy="246.3" r="5.7" fill="none" stroke="#ee6a97" stroke-width="1.45"/>
<circle cx="1181.9" cy="243.6" r="5.7" fill="none" stroke="#ee6a97" stroke-width="1.45"/>
<circle cx="1165" cy="234.3" r="5.7" fill="none" stroke="#ee6a97" stroke-width="1.45"/>
<circle cx="1196.4" cy="248.5" r="5.7" fill="none" stroke="#ee6a97" stroke-width="1.45"/>
<path d="M1121 195.5L1134 208.5M1121 208.5L1134 195.5" fill="none" stroke="#ee6a97" stroke-width="1.45"/>
<path d="M1138.5 187.5L1151.5 200.5M1138.5 200.5L1151.5 187.5" fill="none" stroke="#ee6a97" stroke-width="1.45"/>
<path d="M1162.5 186.5L1175.5 199.5M1162.5 199.5L1175.5 186.5" fill="none" stroke="#ee6a97" stroke-width="1.45"/>
<path d="M1190.5 192L1203.5 205M1190.5 205L1203.5 192" fill="none" stroke="#ee6a97" stroke-width="1.45"/>
<path d="M1145.5 198.5L1158.5 211.5M1145.5 211.5L1158.5 198.5" fill="none" stroke="#ee6a97" stroke-width="1.45"/>
<path d="M1140.1 202.8L1153.1 215.8M1140.1 215.8L1153.1 202.8" fill="none" stroke="#ee6a97" stroke-width="1.2"/>
<path d="M1138.1 202.4L1151.1 215.4M1138.1 215.4L1151.1 202.4" fill="none" stroke="#ee6a97" stroke-width="1.2"/>
<path d="M1151.6 207.9L1164.6 220.9M1151.6 220.9L1164.6 207.9" fill="none" stroke="#ee6a97" stroke-width="1.2"/>
<path d="M1155.2 200.3L1168.2 213.3M1155.2 213.3L1168.2 200.3" fill="none" stroke="#ee6a97" stroke-width="1.2"/>
<path d="M1177 210L1190 223M1177 223L1190 210" fill="none" stroke="#ee6a97" stroke-width="1.2"/>
<path d="M1169.3 195.7L1182.3 208.7M1169.3 208.7L1182.3 195.7" fill="none" stroke="#ee6a97" stroke-width="1.2"/>
<path d="M1167.3 202L1180.3 215M1167.3 215L1180.3 202" fill="none" stroke="#ee6a97" stroke-width="1.2"/>
<path d="M1140.4 204L1153.4 217M1140.4 217L1153.4 204" fill="none" stroke="#ee6a97" stroke-width="1.2"/>
<path d="M1164.7 213.8L1177.7 226.8M1164.7 226.8L1177.7 213.8" fill="none" stroke="#ee6a97" stroke-width="1.2"/>
<path d="M1145.1 202.8L1158.1 215.8M1145.1 215.8L1158.1 202.8" fill="none" stroke="#ee6a97" stroke-width="1.2"/>
<path d="M1139.8 194.7L1152.8 207.7M1139.8 207.7L1152.8 194.7" fill="none" stroke="#ee6a97" stroke-width="1.2"/>
<path d="M1181.2 204.7L1194.2 217.7M1181.2 217.7L1194.2 204.7" fill="none" stroke="#ee6a97" stroke-width="1.2"/>
<path d="M1154.3 211.7L1167.3 224.7M1154.3 224.7L1167.3 211.7" fill="none" stroke="#ee6a97" stroke-width="1.2"/>
<path d="M1153.2 194L1166.2 207M1153.2 207L1166.2 194" fill="none" stroke="#ee6a97" stroke-width="1.2"/>
<path d="M1137 199.9L1150 212.9M1137 212.9L1150 199.9" fill="none" stroke="#ee6a97" stroke-width="1.2"/>
<path d="M1182.9 205.1L1195.9 218.1M1182.9 218.1L1195.9 205.1" fill="none" stroke="#ee6a97" stroke-width="1.2"/>
<path d="M1140 200.6L1153 213.6M1140 213.6L1153 200.6" fill="none" stroke="#ee6a97" stroke-width="1.2"/>
<path d="M1160.8 205.3L1173.8 218.3M1160.8 218.3L1173.8 205.3" fill="none" stroke="#ee6a97" stroke-width="1.2"/>
<path d="M1181 204.8L1194 217.8M1181 217.8L1194 204.8" fill="none" stroke="#ee6a97" stroke-width="1.2"/>
<path d="M1163.6 202.9L1176.6 215.9M1163.6 215.9L1176.6 202.9" fill="none" stroke="#ee6a97" stroke-width="1.2"/>
<path d="M1163.7 210.8L1176.7 223.8M1163.7 223.8L1176.7 210.8" fill="none" stroke="#ee6a97" stroke-width="1.2"/>
<path d="M1138.1 199.4L1151.1 212.4M1138.1 212.4L1151.1 199.4" fill="none" stroke="#ee6a97" stroke-width="1.2"/>
<path d="M1183.8 200.9L1196.8 213.9M1183.8 213.9L1196.8 200.9" fill="none" stroke="#ee6a97" stroke-width="1.2"/>
<path d="M1138.9 202.6L1151.9 215.6M1138.9 215.6L1151.9 202.6" fill="none" stroke="#ee6a97" stroke-width="1.2"/>
<path d="M1164 213.9L1177 226.9M1164 226.9L1177 213.9" fill="none" stroke="#ee6a97" stroke-width="1.2"/>
<circle cx="1148.1" cy="224" r="5.7" fill="none" stroke="#ee6a97" stroke-width="1.2"/>
<circle cx="1146" cy="222" r="5.7" fill="none" stroke="#ee6a97" stroke-width="1.2"/>
<path d="M1172.7 221.1L1185.7 234.1M1172.7 234.1L1185.7 221.1" fill="none" stroke="#ee6a97" stroke-width="1.2"/>
<path d="M1161.4 219.4L1174.4 232.4M1161.4 232.4L1174.4 219.4" fill="none" stroke="#ee6a97" stroke-width="1.2"/>
<path d="M1147.2 221.4L1160.2 234.4M1147.2 234.4L1160.2 221.4" fill="none" stroke="#ee6a97" stroke-width="1.2"/>
<path d="M1154.7 219.3L1167.7 232.3M1154.7 232.3L1167.7 219.3" fill="none" stroke="#ee6a97" stroke-width="1.2"/>
<path d="M1158.6 215.7L1171.6 228.7M1158.6 228.7L1171.6 215.7" fill="none" stroke="#ee6a97" stroke-width="1.2"/>
<path d="M1165.3 223L1178.3 236M1165.3 236L1178.3 223" fill="none" stroke="#ee6a97" stroke-width="1.2"/>
<circle cx="1148.9" cy="217.3" r="5.7" fill="none" stroke="#ee6a97" stroke-width="1.2"/>
<circle cx="1154.1" cy="225.1" r="5.7" fill="none" stroke="#ee6a97" stroke-width="1.2"/>
<path d="M1152.4 218.5L1165.4 231.5M1152.4 231.5L1165.4 218.5" fill="none" stroke="#ee6a97" stroke-width="1.2"/>
<circle cx="1167.1" cy="230.3" r="5.7" fill="none" stroke="#ee6a97" stroke-width="1.2"/>
<circle cx="1178.4" cy="226.6" r="5.7" fill="none" stroke="#ee6a97" stroke-width="1.2"/>
<path d="M1161.6 215.9L1174.6 228.9M1161.6 228.9L1174.6 215.9" fill="none" stroke="#ee6a97" stroke-width="1.2"/>
<path d="M1169.5 217.5L1182.5 230.5M1169.5 230.5L1182.5 217.5" fill="none" stroke="#ee6a97" stroke-width="1.2"/>
<path d="M1189.2 214.7L1202.2 227.7M1189.2 227.7L1202.2 214.7" fill="none" stroke="#ee6a97" stroke-width="1.2"/>
<path d="M1211.4 220.3L1224.4 233.3M1211.4 233.3L1224.4 220.3" fill="none" stroke="#ee6a97" stroke-width="1.2"/>
<path d="M1212.5 231.2L1225.5 244.2M1212.5 244.2L1225.5 231.2" fill="none" stroke="#ee6a97" stroke-width="1.2"/>
<path d="M1214.9 220.6L1227.9 233.6M1214.9 233.6L1227.9 220.6" fill="none" stroke="#ee6a97" stroke-width="1.2"/>
<path d="M1207.5 222.3L1220.5 235.3M1207.5 235.3L1220.5 222.3" fill="none" stroke="#ee6a97" stroke-width="1.2"/>
<path d="M1183.3 227.7L1196.3 240.7M1183.3 240.7L1196.3 227.7" fill="none" stroke="#ee6a97" stroke-width="1.2"/>
<path d="M1201.5 226.7L1214.5 239.7M1201.5 239.7L1214.5 226.7" fill="none" stroke="#ee6a97" stroke-width="1.2"/>
<path d="M1193.1 224.9L1206.1 237.9M1193.1 237.9L1206.1 224.9" fill="none" stroke="#ee6a97" stroke-width="1.2"/>
<path d="M1204.7 233.1L1217.7 246.1M1204.7 246.1L1217.7 233.1" fill="none" stroke="#ee6a97" stroke-width="1.2"/>
<path d="M1195.1 231.6L1208.1 244.6M1195.1 244.6L1208.1 231.6" fill="none" stroke="#ee6a97" stroke-width="1.2"/>
<path d="M1168.2 211.9L1181.2 224.9M1168.2 224.9L1181.2 211.9" fill="none" stroke="#ee6a97" stroke-width="1.2"/>
<path d="M1190.2 220.8L1203.2 233.8M1190.2 233.8L1203.2 220.8" fill="none" stroke="#ee6a97" stroke-width="1.2"/>
<path d="M1182.1 225.7L1195.1 238.7M1182.1 238.7L1195.1 225.7" fill="none" stroke="#ee6a97" stroke-width="1.2"/>
<path d="M1162.7 203.1L1175.7 216.1M1162.7 216.1L1175.7 203.1" fill="none" stroke="#ee6a97" stroke-width="1.2"/>
<path d="M1175.9 216.4L1188.9 229.4M1175.9 229.4L1188.9 216.4" fill="none" stroke="#ee6a97" stroke-width="1.2"/>
<path d="M1188.6 228.3L1201.6 241.3M1188.6 241.3L1201.6 228.3" fill="none" stroke="#ee6a97" stroke-width="1.2"/>
<path d="M1162.4 210.1L1175.4 223.1M1162.4 223.1L1175.4 210.1" fill="none" stroke="#ee6a97" stroke-width="1.2"/>
<path d="M1212.2 216.7L1225.2 229.7M1212.2 229.7L1225.2 216.7" fill="none" stroke="#ee6a97" stroke-width="1.2"/>
<path d="M1190.8 220.2L1203.8 233.2M1190.8 233.2L1203.8 220.2" fill="none" stroke="#ee6a97" stroke-width="1.2"/>
<path d="M1205.1 226.4L1218.1 239.4M1205.1 239.4L1218.1 226.4" fill="none" stroke="#ee6a97" stroke-width="1.2"/>
<path d="M1204.4 228.3L1217.4 241.3M1204.4 241.3L1217.4 228.3" fill="none" stroke="#ee6a97" stroke-width="1.2"/>
<path d="M1191 224L1204 237M1191 237L1204 224" fill="none" stroke="#ee6a97" stroke-width="1.2"/>
<path d="M1201.6 218.7L1214.6 231.7M1201.6 231.7L1214.6 218.7" fill="none" stroke="#ee6a97" stroke-width="1.2"/>
<path d="M1211.9 227.8L1224.9 240.8M1211.9 240.8L1224.9 227.8" fill="none" stroke="#ee6a97" stroke-width="1.2"/>
<path d="M1174 213.5L1187 226.5M1174 226.5L1187 213.5" fill="none" stroke="#ee6a97" stroke-width="1.2"/>
<path d="M1189 230.6L1202 243.6M1189 243.6L1202 230.6" fill="none" stroke="#ee6a97" stroke-width="1.2"/>
<path d="M1186.8 214.6L1199.8 227.6M1186.8 227.6L1199.8 214.6" fill="none" stroke="#ee6a97" stroke-width="1.2"/>
<path d="M1201.5 220.8L1214.5 233.8M1201.5 233.8L1214.5 220.8" fill="none" stroke="#ee6a97" stroke-width="1.2"/>
<path d="M1188.2 222.8L1201.2 235.8M1188.2 235.8L1201.2 222.8" fill="none" stroke="#ee6a97" stroke-width="1.2"/>
<path d="M1202.6 219.1L1215.6 232.1M1202.6 232.1L1215.6 219.1" fill="none" stroke="#ee6a97" stroke-width="1.2"/>
<path d="M1212.9 232.5L1225.9 245.5M1212.9 245.5L1225.9 232.5" fill="none" stroke="#ee6a97" stroke-width="1.2"/>
<path d="M1167.5 210.3L1180.5 223.3M1167.5 223.3L1180.5 210.3" fill="none" stroke="#ee6a97" stroke-width="1.2"/>
<path d="M1183.2 215L1196.2 228M1183.2 228L1196.2 215" fill="none" stroke="#ee6a97" stroke-width="1.2"/>
<path d="M1160.3 218.2L1173.3 231.2M1160.3 231.2L1173.3 218.2" fill="none" stroke="#ee6a97" stroke-width="1.2"/>
<path d="M1204.7 229.1L1217.7 242.1M1204.7 242.1L1217.7 229.1" fill="none" stroke="#ee6a97" stroke-width="1.2"/>
<path d="M1167.7 210.8L1180.7 223.8M1167.7 223.8L1180.7 210.8" fill="none" stroke="#ee6a97" stroke-width="1.2"/>
<path d="M1215.7 233.2L1228.7 246.2M1215.7 246.2L1228.7 233.2" fill="none" stroke="#ee6a97" stroke-width="1.2"/>
<path d="M1207 241.5L1220 254.5M1207 254.5L1220 241.5" fill="none" stroke="#ee6a97" stroke-width="1.2"/>
<path d="M1217.3 232.8L1230.3 245.8M1217.3 245.8L1230.3 232.8" fill="none" stroke="#ee6a97" stroke-width="1.2"/>
<path d="M1219.1 228.7L1232.1 241.7M1219.1 241.7L1232.1 228.7" fill="none" stroke="#ee6a97" stroke-width="1.2"/>
<path d="M1178.3 218.5L1191.3 231.5M1178.3 231.5L1191.3 218.5" fill="none" stroke="#ee6a97" stroke-width="1.2"/>
<path d="M1158.1 214.2L1171.1 227.2M1158.1 227.2L1171.1 214.2" fill="none" stroke="#ee6a97" stroke-width="1.2"/>
<path d="M1183.2 223.8L1196.2 236.8M1183.2 236.8L1196.2 223.8" fill="none" stroke="#ee6a97" stroke-width="1.2"/>
<path d="M1189 221.3L1202 234.3M1189 234.3L1202 221.3" fill="none" stroke="#ee6a97" stroke-width="1.2"/>
<path d="M1164.1 215.2L1177.1 228.2M1164.1 228.2L1177.1 215.2" fill="none" stroke="#ee6a97" stroke-width="1.2"/>
<path d="M1164.2 209.5L1177.2 222.5M1164.2 222.5L1177.2 209.5" fill="none" stroke="#ee6a97" stroke-width="1.2"/>
<path d="M1160.6 211.1L1173.6 224.1M1160.6 224.1L1173.6 211.1" fill="none" stroke="#ee6a97" stroke-width="1.2"/>
<path d="M1209.2 223.5L1222.2 236.5M1209.2 236.5L1222.2 223.5" fill="none" stroke="#ee6a97" stroke-width="1.2"/>
<path d="M1210.6 231.8H1227.6M1219.1 223.3V240.3" fill="none" stroke="#ee6a97" stroke-width="1.2"/>
<path d="M1222.2 235.7L1235.2 248.7M1222.2 248.7L1235.2 235.7" fill="none" stroke="#ee6a97" stroke-width="1.2"/>
<path d="M1204.2 228.5L1217.2 241.5M1204.2 241.5L1217.2 228.5" fill="none" stroke="#ee6a97" stroke-width="1.2"/>
<path d="M1205.7 224.8L1218.7 237.8M1205.7 237.8L1218.7 224.8" fill="none" stroke="#ee6a97" stroke-width="1.2"/>
<path d="M1218.6 236L1231.6 249M1218.6 249L1231.6 236" fill="none" stroke="#ee6a97" stroke-width="1.2"/>
<path d="M1197.1 221.2L1210.1 234.2M1197.1 234.2L1210.1 221.2" fill="none" stroke="#ee6a97" stroke-width="1.2"/>
<path d="M1211.3 235H1228.3M1219.8 226.5V243.5" fill="none" stroke="#ee6a97" stroke-width="1.2"/>
<path d="M1215.8 239.9L1228.8 252.9M1215.8 252.9L1228.8 239.9" fill="none" stroke="#ee6a97" stroke-width="1.2"/>
<path d="M1214.5 233.2L1227.5 246.2M1214.5 246.2L1227.5 233.2" fill="none" stroke="#ee6a97" stroke-width="1.2"/>
<path d="M1202.8 229.4L1215.8 242.4M1202.8 242.4L1215.8 229.4" fill="none" stroke="#ee6a97" stroke-width="1.2"/>
<path d="M1202.4 224.5L1215.4 237.5M1202.4 237.5L1215.4 224.5" fill="none" stroke="#ee6a97" stroke-width="1.2"/>
<path d="M1203.2 231.3L1216.2 244.3M1203.2 244.3L1216.2 231.3" fill="none" stroke="#ee6a97" stroke-width="1.2"/>
<path d="M1218.9 241.8H1235.9M1227.4 233.3V250.3" fill="none" stroke="#ee6a97" stroke-width="1.2"/>
<path d="M1190.7 230.2L1203.7 243.2M1190.7 243.2L1203.7 230.2" fill="none" stroke="#ee6a97" stroke-width="1.2"/>
<path d="M1222.3 241.4H1239.3M1230.8 232.9V249.9" fill="none" stroke="#ee6a97" stroke-width="1.2"/>
<path d="M1201.8 232.5H1218.8M1210.3 224V241" fill="none" stroke="#ee6a97" stroke-width="1.2"/>
<path d="M1194.7 232.3H1211.7M1203.2 223.8V240.8" fill="none" stroke="#ee6a97" stroke-width="1.2"/>
<path d="M1215.7 235.8H1232.7M1224.2 227.3V244.3" fill="none" stroke="#ee6a97" stroke-width="1.2"/>
<path d="M1232.9 241.8L1245.9 254.8M1232.9 254.8L1245.9 241.8" fill="none" stroke="#ee6a97" stroke-width="1.2"/>
<path d="M1205.6 231.9L1218.6 244.9M1205.6 244.9L1218.6 231.9" fill="none" stroke="#ee6a97" stroke-width="1.2"/>
<path d="M1218 246L1231 259M1218 259L1231 246" fill="none" stroke="#ee6a97" stroke-width="1.2"/>
<path d="M1221.4 250.1L1234.4 263.1M1221.4 263.1L1234.4 250.1" fill="none" stroke="#ee6a97" stroke-width="1.2"/>
<path d="M1196.4 222.9L1209.4 235.9M1196.4 235.9L1209.4 222.9" fill="none" stroke="#ee6a97" stroke-width="1.2"/>
<path d="M1197.6 219.4L1210.6 232.4M1197.6 232.4L1210.6 219.4" fill="none" stroke="#ee6a97" stroke-width="1.2"/>
<path d="M1222.7 251H1239.7M1231.2 242.5V259.5" fill="none" stroke="#ee6a97" stroke-width="1.2"/>
<path d="M1220.1 229.9L1233.1 242.9M1220.1 242.9L1233.1 229.9" fill="none" stroke="#ee6a97" stroke-width="1.2"/>
<path d="M1204.6 232H1221.6M1213.1 223.5V240.5" fill="none" stroke="#ee6a97" stroke-width="1.2"/>
<path d="M1191.3 228.7H1208.3M1199.8 220.2V237.2" fill="none" stroke="#ee6a97" stroke-width="1.2"/>
<path d="M1229 248.1L1242 261.1M1229 261.1L1242 248.1" fill="none" stroke="#ee6a97" stroke-width="1.2"/>
<path d="M1193.4 227.8H1210.4M1201.9 219.3V236.3" fill="none" stroke="#ee6a97" stroke-width="1.2"/>
<path d="M1201.3 227.9L1214.3 240.9M1201.3 240.9L1214.3 227.9" fill="none" stroke="#ee6a97" stroke-width="1.2"/>
<path d="M1210.5 235.6L1223.5 248.6M1210.5 248.6L1223.5 235.6" fill="none" stroke="#ee6a97" stroke-width="1.2"/>
<path d="M1222.5 215.5L1235.5 228.5M1222.5 228.5L1235.5 215.5" fill="none" stroke="#ee6a97" stroke-width="1.45"/>
<path d="M1227.5 217.5L1240.5 230.5M1227.5 230.5L1240.5 217.5" fill="none" stroke="#ee6a97" stroke-width="1.45"/>
<path d="M1232 251.7H1249M1240.5 243.2V260.2" fill="none" stroke="#ee6a97" stroke-width="1.2"/>
<path d="M1220.6 242.7H1237.6M1229.1 234.2V251.2" fill="none" stroke="#ee6a97" stroke-width="1.2"/>
<path d="M1228.5 235H1245.5M1237 226.5V243.5" fill="none" stroke="#ee6a97" stroke-width="1.2"/>
<path d="M1229.4 240.3H1246.4M1237.9 231.8V248.8" fill="none" stroke="#ee6a97" stroke-width="1.2"/>
<path d="M1217.7 237.5H1234.7M1226.2 229V246" fill="none" stroke="#ee6a97" stroke-width="1.2"/>
<path d="M1233.9 250.9H1250.9M1242.4 242.4V259.4" fill="none" stroke="#ee6a97" stroke-width="1.2"/>
<path d="M1234.2 254.6H1251.2M1242.7 246.1V263.1" fill="none" stroke="#ee6a97" stroke-width="1.2"/>
<path d="M1237.1 251.9H1254.1M1245.6 243.4V260.4" fill="none" stroke="#ee6a97" stroke-width="1.2"/>
<path d="M1220.1 235H1237.1M1228.6 226.5V243.5" fill="none" stroke="#ee6a97" stroke-width="1.2"/>
<path d="M1239.7 251.1H1256.7M1248.2 242.6V259.6" fill="none" stroke="#ee6a97" stroke-width="1.2"/>
<path d="M1235.2 259.3H1252.2M1243.7 250.8V267.8" fill="none" stroke="#ee6a97" stroke-width="1.2"/>
<path d="M1239 254.7H1256M1247.5 246.2V263.2" fill="none" stroke="#ee6a97" stroke-width="1.2"/>
<path d="M1219.6 236.7H1236.6M1228.1 228.2V245.2" fill="none" stroke="#ee6a97" stroke-width="1.2"/>
<path d="M1227 243.9H1244M1235.5 235.4V252.4" fill="none" stroke="#ee6a97" stroke-width="1.2"/>
<path d="M1234.3 247.2H1251.3M1242.8 238.7V255.7" fill="none" stroke="#ee6a97" stroke-width="1.2"/>
<path d="M1233.6 245.1H1250.6M1242.1 236.6V253.6" fill="none" stroke="#ee6a97" stroke-width="1.2"/>
<path d="M1221.7 249H1238.7M1230.2 240.5V257.5" fill="none" stroke="#ee6a97" stroke-width="1.2"/>
<path d="M1228.4 253.4H1245.4M1236.9 244.9V261.9" fill="none" stroke="#ee6a97" stroke-width="1.2"/>
<path d="M1239.8 251.5H1256.8M1248.3 243V260" fill="none" stroke="#ee6a97" stroke-width="1.2"/>
<path d="M1225.5 239.5H1242.5M1234 231V248" fill="none" stroke="#ee6a97" stroke-width="1.2"/>
<path d="M1228.9 237.9H1245.9M1237.4 229.4V246.4" fill="none" stroke="#ee6a97" stroke-width="1.2"/>
<path d="M1227.8 232.9H1244.8M1236.3 224.4V241.4" fill="none" stroke="#ee6a97" stroke-width="1.2"/>
<path d="M1237.4 253.3H1254.4M1245.9 244.8V261.8" fill="none" stroke="#ee6a97" stroke-width="1.2"/>
<path d="M1234.8 248.5H1251.8M1243.3 240V257" fill="none" stroke="#ee6a97" stroke-width="1.2"/>
<path d="M1226.9 239.6H1243.9M1235.4 231.1V248.1" fill="none" stroke="#ee6a97" stroke-width="1.2"/>
<path d="M1226.8 231H1243.8M1235.3 222.5V239.5" fill="none" stroke="#ee6a97" stroke-width="1.2"/>
<path d="M1228.2 247.3H1245.2M1236.7 238.8V255.8" fill="none" stroke="#ee6a97" stroke-width="1.2"/>
<path d="M1232.6 252.1H1249.6M1241.1 243.6V260.6" fill="none" stroke="#ee6a97" stroke-width="1.2"/>
<path d="M1229.9 263.9H1246.9M1238.4 255.4V272.4" fill="none" stroke="#ee6a97" stroke-width="1.2"/>
<path d="M1237 267.1L1250 280.1M1237 280.1L1250 267.1" fill="none" stroke="#ee6a97" stroke-width="1.2"/>
<path d="M1210.1 263.4H1227.1M1218.6 254.9V271.9" fill="none" stroke="#ee6a97" stroke-width="1.2"/>
<path d="M1218.3 256.1H1235.3M1226.8 247.6V264.6" fill="none" stroke="#ee6a97" stroke-width="1.2"/>
<circle cx="1238.6" cy="270.4" r="5.7" fill="none" stroke="#ee6a97" stroke-width="1.2"/>
<path d="M1220.8 258.2H1237.8M1229.3 249.7V266.7" fill="none" stroke="#ee6a97" stroke-width="1.2"/>
<circle cx="1217.1" cy="258.1" r="5.7" fill="none" stroke="#ee6a97" stroke-width="1.2"/>
<path d="M1234.2 272.1H1251.2M1242.7 263.6V280.6" fill="none" stroke="#ee6a97" stroke-width="1.2"/>
<path d="M1227.6 261H1244.6M1236.1 252.5V269.5" fill="none" stroke="#ee6a97" stroke-width="1.2"/>
<path d="M1230.5 262.7H1247.5M1239 254.2V271.2" fill="none" stroke="#ee6a97" stroke-width="1.2"/>
<path d="M1221.9 263.4H1238.9M1230.4 254.9V271.9" fill="none" stroke="#ee6a97" stroke-width="1.2"/>
<circle cx="1219.6" cy="249.7" r="5.7" fill="none" stroke="#ee6a97" stroke-width="1.2"/>
<circle cx="1240" cy="259.8" r="5.7" fill="none" stroke="#ee6a97" stroke-width="1.2"/>
<circle cx="1225.7" cy="261.2" r="5.7" fill="none" stroke="#ee6a97" stroke-width="1.2"/>
<circle cx="1222.3" cy="252.7" r="5.7" fill="none" stroke="#ee6a97" stroke-width="1.2"/>
<path d="M1231.3 269.7H1248.3M1239.8 261.2V278.2" fill="none" stroke="#ee6a97" stroke-width="1.2"/>
<path d="M1237.7 262.6L1250.7 275.6M1237.7 275.6L1250.7 262.6" fill="none" stroke="#ee6a97" stroke-width="1.2"/>
<circle cx="1225.8" cy="257.7" r="5.7" fill="none" stroke="#ee6a97" stroke-width="1.2"/>
<path d="M1214.7 247.9H1231.7M1223.2 239.4V256.4" fill="none" stroke="#ee6a97" stroke-width="1.2"/>
<circle cx="1225.3" cy="262.8" r="5.7" fill="none" stroke="#ee6a97" stroke-width="1.2"/>
<path d="M1171.5 268H1188.5M1180 259.5V276.5" fill="none" stroke="#ee6a97" stroke-width="1.45"/>
<path d="M1198.5 272H1215.5M1207 263.5V280.5" fill="none" stroke="#ee6a97" stroke-width="1.45"/>
<path d="M1261.5 268.5L1274.5 281.5M1261.5 281.5L1274.5 268.5" fill="none" stroke="#ee6a97" stroke-width="1.45"/>
<path d="M1251.5 272H1268.5M1260 263.5V280.5" fill="none" stroke="#ee6a97" stroke-width="1.45"/>
<circle cx="1250" cy="267" r="5.7" fill="none" stroke="#ee6a97" stroke-width="1.45"/>
<circle cx="1192.5" cy="243.4" r="5.7" fill="none" stroke="#56bcc4" stroke-width="1.45"/>
<circle cx="1192.1" cy="243.2" r="5.7" fill="none" stroke="#56bcc4" stroke-width="1.45"/>
<circle cx="1190" cy="249.1" r="5.7" fill="none" stroke="#56bcc4" stroke-width="1.45"/>
<circle cx="1191.8" cy="249.6" r="5.7" fill="none" stroke="#56bcc4" stroke-width="1.45"/>
<circle cx="1196.8" cy="241.1" r="5.7" fill="none" stroke="#56bcc4" stroke-width="1.45"/>
<circle cx="1190.1" cy="269.2" r="5.7" fill="none" stroke="#56bcc4" stroke-width="1.45"/>
<circle cx="1190.9" cy="259.1" r="5.7" fill="none" stroke="#56bcc4" stroke-width="1.45"/>
<path d="M1197.1 259.5H1214.1M1205.6 251V268" fill="none" stroke="#56bcc4" stroke-width="1.45"/>
<circle cx="1200.1" cy="253.4" r="5.7" fill="none" stroke="#56bcc4" stroke-width="1.45"/>
<path d="M1180.3 256.7L1193.3 269.7M1180.3 269.7L1193.3 256.7" fill="none" stroke="#56bcc4" stroke-width="1.45"/>
<circle cx="1204.7" cy="266.9" r="5.7" fill="none" stroke="#56bcc4" stroke-width="1.45"/>
<path d="M1192.6 260L1205.6 273M1192.6 273L1205.6 260" fill="none" stroke="#56bcc4" stroke-width="1.45"/>
<circle cx="1204.6" cy="261.3" r="5.7" fill="none" stroke="#56bcc4" stroke-width="1.45"/>
<path d="M1197.2 290.5L1210.2 303.5M1197.2 303.5L1210.2 290.5" fill="none" stroke="#56bcc4" stroke-width="1.45"/>
<path d="M1192.7 285.1L1205.7 298.1M1192.7 298.1L1205.7 285.1" fill="none" stroke="#56bcc4" stroke-width="1.45"/>
<path d="M1211.4 300L1219.2 285.6H1203.6Z" fill="none" stroke="#56bcc4" stroke-width="1.45"/>
<path d="M1194.6 293.8L1202.4 279.4H1186.8Z" fill="none" stroke="#56bcc4" stroke-width="1.45"/>
<path d="M1211.7 296L1219.5 281.6H1203.9Z" fill="none" stroke="#56bcc4" stroke-width="1.45"/>
<path d="M1197.3 294.7L1205.1 280.3H1189.5Z" fill="none" stroke="#56bcc4" stroke-width="1.45"/>
<path d="M1201.1 298.8L1208.9 284.4H1193.3Z" fill="none" stroke="#56bcc4" stroke-width="1.45"/>
<path d="M1193.1 305.6L1200.9 291.2H1185.3Z" fill="none" stroke="#56bcc4" stroke-width="1.45"/>
<path d="M1213.1 288.6L1220.9 274.2H1205.3Z" fill="none" stroke="#56bcc4" stroke-width="1.45"/>
<path d="M1186 302.2L1193.8 287.8H1178.2Z" fill="none" stroke="#56bcc4" stroke-width="1.45"/>
<path d="M1192 310.2L1199.8 295.8H1184.2Z" fill="none" stroke="#56bcc4" stroke-width="1.45"/>
<path d="M1195.2 254.1L1208.2 267.1M1195.2 267.1L1208.2 254.1" fill="none" stroke="#6b3a8e" stroke-width="1.1"/>
<path d="M1199 258.2H1216M1207.5 249.7V266.7" fill="none" stroke="#6b3a8e" stroke-width="1.1"/>
<path d="M1192.4 255.1H1209.4M1200.9 246.6V263.6" fill="none" stroke="#6b3a8e" stroke-width="1.1"/>
<path d="M1215.8 252.7L1228.8 265.7M1215.8 265.7L1228.8 252.7" fill="none" stroke="#6b3a8e" stroke-width="1.1"/>
<path d="M1223.3 260.9H1240.3M1231.8 252.4V269.4" fill="none" stroke="#6b3a8e" stroke-width="1.1"/>
<path d="M1198.7 251.7L1211.7 264.7M1198.7 264.7L1211.7 251.7" fill="none" stroke="#6b3a8e" stroke-width="1.1"/>
<path d="M1219.3 240.2L1232.3 253.2M1219.3 253.2L1232.3 240.2" fill="none" stroke="#6b3a8e" stroke-width="1.1"/>
<path d="M1212.8 258.8H1229.8M1221.3 250.3V267.3" fill="none" stroke="#6b3a8e" stroke-width="1.1"/>
<path d="M1218.9 247.4L1231.9 260.4M1218.9 260.4L1231.9 247.4" fill="none" stroke="#6b3a8e" stroke-width="1.1"/>
<path d="M1187.7 262.2H1204.7M1196.2 253.7V270.7" fill="none" stroke="#6b3a8e" stroke-width="1.1"/>
<path d="M1214.9 247.8L1227.9 260.8M1214.9 260.8L1227.9 247.8" fill="none" stroke="#6b3a8e" stroke-width="1.1"/>
<path d="M1227.5 260H1244.5M1236 251.5V268.5" fill="none" stroke="#7b2f88" stroke-width="1.45"/>
<path d="M1229.3 299.2L1237.1 313.6H1221.5Z" fill="none" stroke="#f3701e" stroke-width="1.15"/>
<path d="M1240.4 288.3L1248.2 302.7H1232.6Z" fill="none" stroke="#f3701e" stroke-width="1.15"/>
<path d="M1240.4 302.2L1248.2 316.6H1232.6Z" fill="none" stroke="#f3701e" stroke-width="1.15"/>
<path d="M1229.7 287L1237.5 301.4H1221.9Z" fill="none" stroke="#f3701e" stroke-width="1.15"/>
<path d="M1224.3 287.4L1232.1 301.8H1216.5Z" fill="none" stroke="#f3701e" stroke-width="1.15"/>
<path d="M1213.1 292.7H1230.1M1221.6 284.2V301.2" fill="none" stroke="#f3701e" stroke-width="1.15"/>
<path d="M1227.3 289.4L1235.1 303.8H1219.5Z" fill="none" stroke="#f3701e" stroke-width="1.15"/>
<path d="M1222.5 315.4L1230.3 329.8H1214.7Z" fill="none" stroke="#f3701e" stroke-width="1.15"/>
<path d="M1215.7 305.4H1232.7M1224.2 296.9V313.9" fill="none" stroke="#f3701e" stroke-width="1.15"/>
<path d="M1235.3 294.3L1243.1 308.7H1227.5Z" fill="none" stroke="#f3701e" stroke-width="1.15"/>
<path d="M1227.3 302L1235.1 316.4H1219.5Z" fill="none" stroke="#f3701e" stroke-width="1.15"/>
<path d="M1214.2 302.1H1231.2M1222.7 293.6V310.6" fill="none" stroke="#f3701e" stroke-width="1.15"/>
<path d="M1228.1 302.8H1245.1M1236.6 294.3V311.3" fill="none" stroke="#f3701e" stroke-width="1.15"/>
<path d="M1233.4 294.6L1241.9 303.1L1233.4 311.6L1224.9 303.1Z" fill="none" stroke="#f3701e" stroke-width="1.15"/>
<path d="M1233.5 297.1L1241.3 311.5H1225.7Z" fill="none" stroke="#f3701e" stroke-width="1.15"/>
<path d="M1233.6 290.7L1241.4 305.1H1225.8Z" fill="none" stroke="#f3701e" stroke-width="1.15"/>
<path d="M1224.2 279.5L1232 293.9H1216.4Z" fill="none" stroke="#f3701e" stroke-width="1.15"/>
<path d="M1226.3 286.7L1234.8 295.2L1226.3 303.7L1217.8 295.2Z" fill="none" stroke="#f3701e" stroke-width="1.15"/>
<path d="M1227.9 281.3L1236.4 289.8L1227.9 298.3L1219.4 289.8Z" fill="none" stroke="#f3701e" stroke-width="1.15"/>
<path d="M1214.7 301.2H1231.7M1223.2 292.7V309.7" fill="none" stroke="#f3701e" stroke-width="1.15"/>
<path d="M1220.7 307.7H1237.7M1229.2 299.2V316.2" fill="none" stroke="#f3701e" stroke-width="1.15"/>
<path d="M1237.2 300.9L1245.7 309.4L1237.2 317.9L1228.7 309.4Z" fill="none" stroke="#f3701e" stroke-width="1.15"/>
<path d="M1227.3 294.4H1244.3M1235.8 285.9V302.9" fill="none" stroke="#f3701e" stroke-width="1.15"/>
<path d="M1232.8 292.1L1240.6 306.5H1225Z" fill="none" stroke="#f3701e" stroke-width="1.15"/>
<path d="M1230.1 294.5L1237.9 308.9H1222.3Z" fill="none" stroke="#f3701e" stroke-width="1.15"/>
<path d="M1209.2 308.6H1226.2M1217.7 300.1V317.1" fill="none" stroke="#f3701e" stroke-width="1.15"/>
<path d="M1206.6 313.6H1223.6M1215.1 305.1V322.1" fill="none" stroke="#f3701e" stroke-width="1.15"/>
<path d="M1225.5 259.8L1234 268.3L1225.5 276.8L1217 268.3Z" fill="none" stroke="#f3701e" stroke-width="1.15"/>
<path d="M1217.6 306.3H1234.6M1226.1 297.8V314.8" fill="none" stroke="#f3701e" stroke-width="1.15"/>
<path d="M1240.1 296.6L1247.9 311H1232.3Z" fill="none" stroke="#f3701e" stroke-width="1.15"/>
<path d="M1240.8 270.5L1248.6 284.9H1233Z" fill="none" stroke="#f3701e" stroke-width="1.15"/>
<path d="M1228.8 294.4L1236.6 308.8H1221Z" fill="none" stroke="#f3701e" stroke-width="1.15"/>
<path d="M1235.8 297.3L1244.3 305.8L1235.8 314.3L1227.3 305.8Z" fill="none" stroke="#f3701e" stroke-width="1.15"/>
<path d="M1216 287.8L1223.8 302.2H1208.2Z" fill="none" stroke="#f3701e" stroke-width="1.15"/>
<path d="M1219.3 307.6L1227.1 322H1211.5Z" fill="none" stroke="#f3701e" stroke-width="1.15"/>
<path d="M1239.2 301.6L1247 316H1231.4Z" fill="none" stroke="#f3701e" stroke-width="1.15"/>
<path d="M1207.5 316.3H1224.5M1216 307.8V324.8" fill="none" stroke="#f3701e" stroke-width="1.15"/>
<path d="M1214.2 314.9H1231.2M1222.7 306.4V323.4" fill="none" stroke="#f3701e" stroke-width="1.15"/>
<path d="M1236.6 295.6L1244.4 310H1228.8Z" fill="none" stroke="#f3701e" stroke-width="1.15"/>
<path d="M1230.6 294.4L1238.4 308.8H1222.8Z" fill="none" stroke="#f3701e" stroke-width="1.15"/>
<path d="M1229.4 290.6L1237.2 305H1221.6Z" fill="none" stroke="#f3701e" stroke-width="1.15"/>
<path d="M1219.7 280.7H1236.7M1228.2 272.2V289.2" fill="none" stroke="#f3701e" stroke-width="1.15"/>
<path d="M1223.8 299L1232.3 307.5L1223.8 316L1215.3 307.5Z" fill="none" stroke="#f3701e" stroke-width="1.15"/>
<path d="M1227.5 308.8L1235.3 323.2H1219.7Z" fill="none" stroke="#f3701e" stroke-width="1.15"/>
<path d="M1234.5 288.8L1243 297.3L1234.5 305.8L1226 297.3Z" fill="none" stroke="#f3701e" stroke-width="1.15"/>
<path d="M1234.3 294.9L1242.1 309.3H1226.5Z" fill="none" stroke="#f3701e" stroke-width="1.15"/>
<path d="M1226.6 283.4L1234.4 297.8H1218.8Z" fill="none" stroke="#f3701e" stroke-width="1.15"/>
<path d="M1232.9 273.4L1240.7 287.8H1225.1Z" fill="none" stroke="#f3701e" stroke-width="1.15"/>
<path d="M1234.8 302L1242.6 316.4H1227Z" fill="none" stroke="#f3701e" stroke-width="1.15"/>
<path d="M1232.7 279.1L1240.5 293.5H1224.9Z" fill="none" stroke="#f3701e" stroke-width="1.15"/>
<path d="M1214.4 295.7H1231.4M1222.9 287.2V304.2" fill="none" stroke="#f3701e" stroke-width="1.15"/>
<path d="M1214.9 296.6L1223.4 305.1L1214.9 313.6L1206.4 305.1Z" fill="none" stroke="#f3701e" stroke-width="1.15"/>
<path d="M1220.5 293.1L1228.3 307.5H1212.7Z" fill="none" stroke="#f3701e" stroke-width="1.15"/>
<path d="M1220 304.5H1237M1228.5 296V313" fill="none" stroke="#f3701e" stroke-width="1.15"/>
<path d="M1218.5 295.2L1226.3 309.6H1210.7Z" fill="none" stroke="#f3701e" stroke-width="1.15"/>
<path d="M1236.5 298.6H1253.5M1245 290.1V307.1" fill="none" stroke="#f3701e" stroke-width="1.15"/>
<path d="M1228.2 297.8L1236 312.2H1220.4Z" fill="none" stroke="#f3701e" stroke-width="1.15"/>
<path d="M1207.5 307.3L1215.3 321.7H1199.7Z" fill="none" stroke="#f3701e" stroke-width="1.15"/>
<path d="M1230.5 298.3L1238.3 312.7H1222.7Z" fill="none" stroke="#f3701e" stroke-width="1.15"/>
<path d="M1219.8 284L1227.6 298.4H1212Z" fill="none" stroke="#f3701e" stroke-width="1.15"/>
<path d="M1229.7 286L1237.5 300.4H1221.9Z" fill="none" stroke="#f3701e" stroke-width="1.15"/>
<path d="M1221.4 288.8L1229.9 297.3L1221.4 305.8L1212.9 297.3Z" fill="none" stroke="#f3701e" stroke-width="1.15"/>
<path d="M1235.4 313.8L1243.9 322.3L1235.4 330.8L1226.9 322.3Z" fill="none" stroke="#f3701e" stroke-width="1.15"/>
<path d="M1236.1 313.1L1243.9 327.5H1228.3Z" fill="none" stroke="#f3701e" stroke-width="1.15"/>
<path d="M1237.1 310.9L1245.6 319.4L1237.1 327.9L1228.6 319.4Z" fill="none" stroke="#f3701e" stroke-width="1.15"/>
<path d="M1237 317.8H1254M1245.5 309.3V326.3" fill="none" stroke="#f3701e" stroke-width="1.15"/>
<path d="M1233.8 309.3L1241.6 323.7H1226Z" fill="none" stroke="#f3701e" stroke-width="1.15"/>
<path d="M1231.2 317.9H1248.2M1239.7 309.4V326.4" fill="none" stroke="#f3701e" stroke-width="1.15"/>
<path d="M1231.8 316.1H1248.8M1240.3 307.6V324.6" fill="none" stroke="#f3701e" stroke-width="1.15"/>
<path d="M1229.5 317.4H1246.5M1238 308.9V325.9" fill="none" stroke="#f3701e" stroke-width="1.15"/>
<path d="M1227.8 319.3H1244.8M1236.3 310.8V327.8" fill="none" stroke="#f3701e" stroke-width="1.15"/>
<path d="M1246.4 308.6L1254.9 317.1L1246.4 325.6L1237.9 317.1Z" fill="none" stroke="#f3701e" stroke-width="1.15"/>
<path d="M1224.9 316.6L1232.7 331H1217.1Z" fill="none" stroke="#f3701e" stroke-width="1.15"/>
<path d="M1216.5 313.8H1233.5M1225 305.3V322.3" fill="none" stroke="#f3701e" stroke-width="1.15"/>
<path d="M1239.6 308.9L1248.1 317.4L1239.6 325.9L1231.1 317.4Z" fill="none" stroke="#f3701e" stroke-width="1.15"/>
<path d="M1234.1 305.9L1242.6 314.4L1234.1 322.9L1225.6 314.4Z" fill="none" stroke="#f3701e" stroke-width="1.15"/>
<path d="M1233 312.4L1240.8 326.8H1225.2Z" fill="none" stroke="#f3701e" stroke-width="1.15"/>
<path d="M1238.2 310.8L1246 325.2H1230.4Z" fill="none" stroke="#f3701e" stroke-width="1.15"/>
<path d="M1198.1 313.5H1215.1M1206.6 305V322M1200.6 307.5L1212.6 319.5M1200.6 319.5L1212.6 307.5" fill="none" stroke="#f3701e" stroke-width="1.15"/>
<path d="M1191.2 312.8H1203.8V325.4H1191.2ZM1191.2 312.8L1203.8 325.4M1191.2 325.4L1203.8 312.8" fill="none" stroke="#f3701e" stroke-width="1.15"/>
<circle cx="1202" cy="322.6" r="5.7" fill="none" stroke="#f3701e" stroke-width="1.15"/><path d="M1196.3 322.6H1207.7M1202 316.9V328.3" fill="none" stroke="#f3701e" stroke-width="1.15"/>
<path d="M1190.6 315.2H1203.2V327.8H1190.6ZM1190.6 315.2L1203.2 327.8M1190.6 327.8L1203.2 315.2" fill="none" stroke="#f3701e" stroke-width="1.15"/>
<path d="M1203.8 306.4L1212.3 314.9L1203.8 323.4L1195.3 314.9ZM1195.3 314.9H1212.3M1203.8 306.4V323.4" fill="none" stroke="#f3701e" stroke-width="1.15"/>
<path d="M1189 320.3H1206M1197.5 311.8V328.8M1191.5 314.3L1203.5 326.3M1191.5 326.3L1203.5 314.3" fill="none" stroke="#f3701e" stroke-width="1.15"/>
<path d="M1185.8 324.4H1202.8M1194.3 315.9V332.9M1188.3 318.4L1200.3 330.4M1188.3 330.4L1200.3 318.4" fill="none" stroke="#f3701e" stroke-width="1.15"/>
<path d="M1262.9 288.7L1270.7 303.1H1255.1Z" fill="none" stroke="#56bcc4" stroke-width="1.2"/>
<path d="M1263.1 306.3L1271.6 314.8L1263.1 323.3L1254.6 314.8Z" fill="none" stroke="#56bcc4" stroke-width="1.2"/>
<path d="M1266.4 297.7L1274.2 312.1H1258.6Z" fill="none" stroke="#56bcc4" stroke-width="1.2"/>
<path d="M1261.9 289.7L1269.7 304.1H1254.1Z" fill="none" stroke="#56bcc4" stroke-width="1.2"/>
<path d="M1268.3 297.7L1276.1 312.1H1260.5Z" fill="none" stroke="#56bcc4" stroke-width="1.2"/>
<path d="M1251.6 303.2L1260.1 311.7L1251.6 320.2L1243.1 311.7Z" fill="none" stroke="#56bcc4" stroke-width="1.2"/>
<path d="M1259.6 292.8L1267.4 307.2H1251.8Z" fill="none" stroke="#56bcc4" stroke-width="1.2"/>
<path d="M1270.2 297.6L1278.7 306.1L1270.2 314.6L1261.7 306.1Z" fill="none" stroke="#56bcc4" stroke-width="1.2"/>
<path d="M1254.1 280.2L1262.6 288.7L1254.1 297.2L1245.6 288.7Z" fill="none" stroke="#56bcc4" stroke-width="1.2"/>
<path d="M1247.5 286.4L1256 294.9L1247.5 303.4L1239 294.9Z" fill="none" stroke="#56bcc4" stroke-width="1.2"/>
<path d="M1262.4 295.4L1270.9 303.9L1262.4 312.4L1253.9 303.9Z" fill="none" stroke="#56bcc4" stroke-width="1.2"/>
<path d="M1271.2 301.5L1279 315.9H1263.4Z" fill="none" stroke="#56bcc4" stroke-width="1.2"/>
<path d="M1277 302.1L1285.5 310.6L1277 319.1L1268.5 310.6Z" fill="none" stroke="#56bcc4" stroke-width="1.2"/>
<path d="M1261.9 311.8L1270.4 320.3L1261.9 328.8L1253.4 320.3Z" fill="none" stroke="#56bcc4" stroke-width="1.2"/>
<path d="M1279.3 293.9L1287.8 302.4L1279.3 310.9L1270.8 302.4Z" fill="none" stroke="#56bcc4" stroke-width="1.2"/>
<path d="M1256.9 287.5L1265.4 296L1256.9 304.5L1248.4 296Z" fill="none" stroke="#56bcc4" stroke-width="1.2"/>
<path d="M1279.5 288.4L1288 296.9L1279.5 305.4L1271 296.9Z" fill="none" stroke="#56bcc4" stroke-width="1.2"/>
<path d="M1255.5 281.8L1264 290.3L1255.5 298.8L1247 290.3Z" fill="none" stroke="#56bcc4" stroke-width="1.2"/>
<path d="M1252 305.3L1260.5 313.8L1252 322.3L1243.5 313.8Z" fill="none" stroke="#56bcc4" stroke-width="1.2"/>
<path d="M1270.9 302.6L1278.7 317H1263.1Z" fill="none" stroke="#56bcc4" stroke-width="1.2"/>
<path d="M1273.4 294.8L1281.2 309.2H1265.6Z" fill="none" stroke="#56bcc4" stroke-width="1.2"/>
<path d="M1273.4 301.5L1281.2 315.9H1265.6Z" fill="none" stroke="#56bcc4" stroke-width="1.2"/>
<path d="M1270.6 290.1L1279.1 298.6L1270.6 307.1L1262.1 298.6Z" fill="none" stroke="#56bcc4" stroke-width="1.2"/>
<path d="M1276.2 284.3L1284.7 292.8L1276.2 301.3L1267.7 292.8Z" fill="none" stroke="#56bcc4" stroke-width="1.2"/>
<path d="M1270.6 291.7L1279.1 300.2L1270.6 308.7L1262.1 300.2Z" fill="none" stroke="#56bcc4" stroke-width="1.2"/>
<path d="M1249.3 300.3L1257.8 308.8L1249.3 317.3L1240.8 308.8Z" fill="none" stroke="#56bcc4" stroke-width="1.2"/>
<path d="M1262.9 290.6L1270.7 305H1255.1Z" fill="none" stroke="#56bcc4" stroke-width="1.2"/>
<path d="M1254.9 301.4L1263.4 309.9L1254.9 318.4L1246.4 309.9Z" fill="none" stroke="#56bcc4" stroke-width="1.2"/>
<path d="M1261.7 296.7L1269.5 311.1H1253.9Z" fill="none" stroke="#56bcc4" stroke-width="1.2"/>
<path d="M1259.5 288.4L1268 296.9L1259.5 305.4L1251 296.9Z" fill="none" stroke="#56bcc4" stroke-width="1.2"/>
<path d="M1254.9 299.6L1263.4 308.1L1254.9 316.6L1246.4 308.1Z" fill="none" stroke="#56bcc4" stroke-width="1.2"/>
<path d="M1277.4 282.8L1285.2 297.2H1269.6Z" fill="none" stroke="#56bcc4" stroke-width="1.2"/>
<path d="M1272.1 299.7L1279.9 314.1H1264.3Z" fill="none" stroke="#56bcc4" stroke-width="1.2"/>
<path d="M1256.1 308.9L1263.9 323.3H1248.3Z" fill="none" stroke="#56bcc4" stroke-width="1.2"/>
<path d="M1265.1 295.3L1273.6 303.8L1265.1 312.3L1256.6 303.8Z" fill="none" stroke="#56bcc4" stroke-width="1.2"/>
<path d="M1283.4 310.3L1291.9 318.8L1283.4 327.3L1274.9 318.8Z" fill="none" stroke="#56bcc4" stroke-width="1.2"/>
<path d="M1270.1 286.2L1277.9 300.6H1262.3Z" fill="none" stroke="#56bcc4" stroke-width="1.2"/>
<path d="M1268.3 276.4L1276.8 284.9L1268.3 293.4L1259.8 284.9Z" fill="none" stroke="#56bcc4" stroke-width="1.2"/>
<path d="M1273.2 294L1281.7 302.5L1273.2 311L1264.7 302.5Z" fill="none" stroke="#56bcc4" stroke-width="1.2"/>
<path d="M1284.2 295.1L1292.7 303.6L1284.2 312.1L1275.7 303.6Z" fill="none" stroke="#56bcc4" stroke-width="1.2"/>
<path d="M1277.8 319.4L1286.3 327.9L1277.8 336.4L1269.3 327.9Z" fill="none" stroke="#56bcc4" stroke-width="1.2"/>
<path d="M1263.7 312.8L1271.5 327.2H1255.9Z" fill="none" stroke="#56bcc4" stroke-width="1.2"/>
<path d="M1261.8 282.3L1270.3 290.8L1261.8 299.3L1253.3 290.8Z" fill="none" stroke="#56bcc4" stroke-width="1.2"/>
<path d="M1276.5 298.8L1285 307.3L1276.5 315.8L1268 307.3Z" fill="none" stroke="#56bcc4" stroke-width="1.2"/>
<path d="M1279.6 312.9L1287.4 327.3H1271.8Z" fill="none" stroke="#56bcc4" stroke-width="1.2"/>
<path d="M1251 330.5L1259.5 339L1251 347.5L1242.5 339Z" fill="none" stroke="#56bcc4" stroke-width="1.45"/>
<path d="M1279.3 296.9L1287.1 311.3H1271.5Z" fill="none" stroke="#8a2a8c" stroke-width="1.15"/>
<path d="M1254 300.1L1261.8 314.5H1246.2Z" fill="none" stroke="#8a2a8c" stroke-width="1.15"/>
<circle cx="1262.7" cy="303.3" r="5.7" fill="none" stroke="#8a2a8c" stroke-width="1.15"/>
<circle cx="1271.1" cy="308.9" r="5.7" fill="none" stroke="#8a2a8c" stroke-width="1.15"/>
<circle cx="1262.6" cy="312" r="5.7" fill="none" stroke="#8a2a8c" stroke-width="1.15"/>
<path d="M1264.7 289.7L1272.5 304.1H1256.9Z" fill="none" stroke="#8a2a8c" stroke-width="1.15"/>
<circle cx="1273.6" cy="303.3" r="5.7" fill="none" stroke="#8a2a8c" stroke-width="1.15"/>
<circle cx="1287.1" cy="310.8" r="5.7" fill="none" stroke="#8a2a8c" stroke-width="1.15"/>
<path d="M1262.1 297.8L1269.9 312.2H1254.3Z" fill="none" stroke="#8a2a8c" stroke-width="1.15"/>
<circle cx="1271.9" cy="314.3" r="5.7" fill="none" stroke="#8a2a8c" stroke-width="1.15"/>
<path d="M1271.4 295L1279.2 309.4H1263.6Z" fill="none" stroke="#8a2a8c" stroke-width="1.15"/>
<path d="M1282.5 299.9L1290.3 314.3H1274.7Z" fill="none" stroke="#8a2a8c" stroke-width="1.15"/>
<path d="M1270.4 302.3L1278.2 316.7H1262.6Z" fill="none" stroke="#8a2a8c" stroke-width="1.15"/>
<circle cx="1277.9" cy="315.6" r="5.7" fill="none" stroke="#8a2a8c" stroke-width="1.15"/>
<circle cx="1269.2" cy="313.8" r="5.7" fill="none" stroke="#8a2a8c" stroke-width="1.15"/>
<path d="M1257.2 288.2L1265 302.6H1249.4Z" fill="none" stroke="#8a2a8c" stroke-width="1.15"/>
<circle cx="1287.3" cy="302.4" r="5.7" fill="none" stroke="#8a2a8c" stroke-width="1.15"/>
<circle cx="1274.1" cy="307.5" r="5.7" fill="none" stroke="#8a2a8c" stroke-width="1.15"/>
<path d="M1280.2 296.9L1288.7 305.4L1280.2 313.9L1271.7 305.4Z" fill="none" stroke="#f3701e" stroke-width="1.45"/>
<path d="M1271.4 306.5L1279.2 292.1H1263.6Z" fill="none" stroke="#f3701e" stroke-width="1.45"/>
<path d="M1275.1 291.9L1283.6 300.4L1275.1 308.9L1266.6 300.4Z" fill="none" stroke="#f3701e" stroke-width="1.45"/>
<path d="M1282.4 291.5L1290.9 300L1282.4 308.5L1273.9 300Z" fill="none" stroke="#f3701e" stroke-width="1.45"/>
<path d="M1280 311.8L1287.8 297.4H1272.2Z" fill="none" stroke="#f3701e" stroke-width="1.45"/>
</g>
<g>
<ellipse cx="823.3" cy="239.2" rx="50.3" ry="34.2" transform="rotate(-14 823.3 239.2)" fill="none" stroke="#cb3f4b" stroke-width="1.4" stroke-dasharray="3.8 2.5"/>
<ellipse cx="915.2" cy="211" rx="31.5" ry="35.2" transform="rotate(0 915.2 211)" fill="none" stroke="#cb3f4b" stroke-width="1.4" stroke-dasharray="3.8 2.5"/>
<ellipse cx="1044" cy="202" rx="51" ry="27.5" transform="rotate(13 1044 202)" fill="none" stroke="#cb3f4b" stroke-width="1.4" stroke-dasharray="3.8 2.5"/>
</g>
<rect x="674.1" y="455.4" width="680" height="380" fill="#fdfbfb" stroke="#858080" stroke-width="1.6"/>
<path d="M673 817.8H1338" stroke="#393334" stroke-width="2.1"/>
<g class="leg">
<text transform="translate(711.5 476.7) scale(1.07 1)" font-weight="bold">Samples</text>
<text transform="translate(713 503.6) scale(1.07 1)">Kazakh</text>
<circle cx="695" cy="497.9" r="6.5" fill="#da0526"/>
<text transform="translate(713 526) scale(1.07 1)">Mongolian</text>
<path d="M695.5 513.4L703.7 527.4H687.3Z" fill="#da0526"/>
<text transform="translate(714.5 548.6) scale(1.07 1)" font-weight="bold">Tibetan</text>
<text transform="translate(713 571) scale(1.07 1)">Yi</text>
<g stroke-opacity="0.66"><circle cx="695.5" cy="566.1" r="6.6" fill="none" stroke="#b88a2c" stroke-width="1.85"/></g>
<text transform="translate(713 593) scale(1.07 1)">Naxi</text>
<g stroke-opacity="0.66"><path d="M695.5 580L704 595H687Z" fill="none" stroke="#b88a2c" stroke-width="1.85"/></g>
<text transform="translate(713 615.5) scale(1.07 1)">Tibetan</text>
<g stroke-opacity="0.66"><path d="M688 609.8H704.4M696.2 601.6V618" fill="none" stroke="#b88a2c" stroke-width="1.85"/></g>
<text transform="translate(714.5 637.2) scale(1.07 1)" font-weight="bold">Han</text>
<text transform="translate(713 660.2) scale(1.07 1)">Han</text>
<g stroke-opacity="0.66"><circle cx="693.2" cy="653.4" r="6.6" fill="none" stroke="#ee6a97" stroke-width="1.85"/></g>
<text transform="translate(713 682) scale(1.07 1)">CHS</text>
<g stroke-opacity="0.66"><path d="M686 675.9H702.4M694.2 667.7V684.1" fill="none" stroke="#ee6a97" stroke-width="1.85"/></g>
<text transform="translate(713 704.6) scale(1.07 1)">CHB</text>
<g stroke-opacity="0.66"><path d="M687.5 692.4L700.9 705.8M687.5 705.8L700.9 692.4" fill="none" stroke="#ee6a97" stroke-width="1.85"/></g>
<text transform="translate(713.3 722) scale(1.07 1)" font-weight="bold">Amur Basin</text>
<text transform="translate(713 744) scale(1.07 1)">Hezhen</text>
<g stroke-opacity="0.66"><circle cx="695" cy="738.3" r="6.6" fill="none" stroke="#7ab648" stroke-width="1.85"/></g>
<text transform="translate(713 765.8) scale(1.07 1)">Xibo</text>
<g stroke-opacity="0.66"><path d="M694.2 752.5L702.7 767.5H685.7Z" fill="none" stroke="#7ab648" stroke-width="1.85"/></g>
<text transform="translate(713 787.9) scale(1.07 1)">Oroqen</text>
<g stroke-opacity="0.66"><path d="M687.5 782.8H703.9M695.7 774.6V791" fill="none" stroke="#7ab648" stroke-width="1.85"/></g>
<text transform="translate(713 810.2) scale(1.07 1)">Ulchi</text>
<g stroke-opacity="0.66"><path d="M689 798.3L702.4 811.7M689 811.7L702.4 798.3" fill="none" stroke="#7ab648" stroke-width="1.85"/></g>
<text transform="translate(836.3 476.7) scale(1.07 1)" font-weight="bold">Southeast Asia</text>
<text transform="translate(836.3 498.9) scale(1.07 1)">Cambodian</text>
<g stroke-opacity="0.66"><circle cx="814.3" cy="493.7" r="6.6" fill="none" stroke="#f3701e" stroke-width="1.85"/></g>
<text transform="translate(836.3 521.2) scale(1.07 1)">KHV</text>
<g stroke-opacity="0.66"><path d="M813.2 506.2L821.7 521.2H804.7Z" fill="none" stroke="#f3701e" stroke-width="1.85"/></g>
<text transform="translate(836.3 543.4) scale(1.07 1)">Kinh</text>
<g stroke-opacity="0.66"><path d="M808.6 537.9H825M816.8 529.7V546.1" fill="none" stroke="#f3701e" stroke-width="1.85"/></g>
<text transform="translate(836.3 565.6) scale(1.07 1)">Thai</text>
<g stroke-opacity="0.66"><path d="M810.6 554.4L824 567.8M810.6 567.8L824 554.4" fill="none" stroke="#f3701e" stroke-width="1.85"/></g>
<text transform="translate(836.3 587.9) scale(1.07 1)">Vietnamese</text>
<g stroke-opacity="0.66"><path d="M817.8 573L827.1 582.3L817.8 591.6L808.5 582.3Z" fill="none" stroke="#f3701e" stroke-width="1.85"/></g>
<text transform="translate(836.3 610.1) scale(1.07 1)">Kankanaey</text>
<g stroke-opacity="0.66"><path d="M817.8 611.7L826.6 596.9H809Z" fill="none" stroke="#f3701e" stroke-width="1.85"/></g>
<text transform="translate(836.3 632.3) scale(1.07 1)">Ilocano</text>
<g stroke-opacity="0.66"><path d="M812 619.5H826V633.5H812ZM812 619.5L826 633.5M812 633.5L826 619.5" fill="none" stroke="#f3701e" stroke-width="1.85"/></g>
<text transform="translate(836.3 654.5) scale(1.07 1)">Tagalog</text>
<g stroke-opacity="0.66"><path d="M809.2 648.5H826.4M817.8 639.9V657.1M811.6 642.3L824 654.7M811.6 654.7L824 642.3" fill="none" stroke="#f3701e" stroke-width="1.85"/></g>
<text transform="translate(836.3 676.8) scale(1.07 1)">Visayan</text>
<g stroke-opacity="0.66"><path d="M819 663.3L827.9 672.2L819 681.1L810.1 672.2ZM810.1 672.2H827.9M819 663.3V681.1" fill="none" stroke="#f3701e" stroke-width="1.85"/></g>
<text transform="translate(836.3 699) scale(1.07 1)">Lao</text>
<g stroke-opacity="0.66"><circle cx="819.8" cy="694.6" r="6.4" fill="none" stroke="#f3701e" stroke-width="1.85"/><path d="M813.4 694.6H826.2M819.8 688.2V701" fill="none" stroke="#f3701e" stroke-width="1.85"/></g>
<text transform="translate(836.3 721.2) scale(1.07 1)" font-weight="bold">Northwest China</text>
<text transform="translate(836.3 743.5) scale(1.07 1)">Daur</text>
<g stroke-opacity="0.66"><circle cx="815.5" cy="739.1" r="6.6" fill="none" stroke="#7b2f88" stroke-width="1.85"/></g>
<text transform="translate(836.3 765.7) scale(1.07 1)">Mongola</text>
<g stroke-opacity="0.66"><path d="M816 752.3L824.5 767.3H807.5Z" fill="none" stroke="#7b2f88" stroke-width="1.85"/></g>
<text transform="translate(836.3 787.9) scale(1.07 1)">Tu</text>
<g stroke-opacity="0.66"><path d="M810.3 781.5H826.7M818.5 773.3V789.7" fill="none" stroke="#7b2f88" stroke-width="1.85"/></g>
<text transform="translate(836.3 810.1) scale(1.07 1)">Uyghur</text>
<g stroke-opacity="0.66"><path d="M810.6 797L824 810.4M810.6 810.4L824 797" fill="none" stroke="#7b2f88" stroke-width="1.85"/></g>
<text transform="translate(1002.7 476.7) scale(1.07 1)" font-weight="bold">Southern China</text>
<text transform="translate(1002.7 498.9) scale(1.07 1)">Tujia</text>
<g stroke-opacity="0.66"><circle cx="981.6" cy="493.1" r="6.6" fill="none" stroke="#7cc8bf" stroke-width="1.85"/></g>
<text transform="translate(1002.7 521.2) scale(1.07 1)">Dai</text>
<g stroke-opacity="0.66"><path d="M981.6 508.1L990.1 523.1H973.1Z" fill="none" stroke="#7cc8bf" stroke-width="1.85"/></g>
<text transform="translate(1002.7 543.4) scale(1.07 1)">Miao</text>
<g stroke-opacity="0.66"><path d="M973.4 538.1H989.8M981.6 529.9V546.3" fill="none" stroke="#7cc8bf" stroke-width="1.85"/></g>
<text transform="translate(1002.7 565.6) scale(1.07 1)">She</text>
<g stroke-opacity="0.66"><path d="M974.5 553.3L987.9 566.7M974.5 566.7L987.9 553.3" fill="none" stroke="#7cc8bf" stroke-width="1.85"/></g>
<text transform="translate(1002.7 587.9) scale(1.07 1)">CDX</text>
<g stroke-opacity="0.66"><path d="M981.5 572.5L990.8 581.8L981.5 591.1L972.2 581.8Z" fill="none" stroke="#7cc8bf" stroke-width="1.85"/></g>
<text transform="translate(1002.7 610.1) scale(1.07 1)">China_Lahu</text>
<g stroke-opacity="0.66"><path d="M981.8 610.9L990.6 596.1H973Z" fill="none" stroke="#7cc8bf" stroke-width="1.85"/></g>
<text transform="translate(1002.7 632.3) scale(1.07 1)" font-weight="bold">Central Asia</text>
<text transform="translate(1002.7 654.5) scale(1.07 1)">Uzbek</text>
<g stroke-opacity="0.8"><circle cx="984.5" cy="649.7" r="5.6" fill="none" stroke="#fcc348" stroke-width="1.7"/></g>
<text transform="translate(1002.7 676.8) scale(1.07 1)">Tajik</text>
<g stroke-opacity="0.8"><path d="M984 664.8L991.6 678H976.4Z" fill="none" stroke="#fcc348" stroke-width="1.7"/></g>
<text transform="translate(1002.7 699) scale(1.07 1)">Turkmen</text>
<g stroke-opacity="0.8"><path d="M975.9 693.4H993.1M984.5 684.8V702" fill="none" stroke="#fcc348" stroke-width="1.7"/></g>
<text transform="translate(1002.7 721.2) scale(1.07 1)">Dungan</text>
<g stroke-opacity="0.8"><path d="M979.3 709.3L992.3 722.3M979.3 722.3L992.3 709.3" fill="none" stroke="#fcc348" stroke-width="1.7"/></g>
<text transform="translate(1002.7 743.5) scale(1.07 1)">Karakalpak</text>
<g stroke-opacity="0.8"><path d="M985.8 729.9L994.2 738.3L985.8 746.7L977.4 738.3Z" fill="none" stroke="#fcc348" stroke-width="1.7"/></g>
<text transform="translate(1002.7 765.7) scale(1.07 1)">Kazakh</text>
<g stroke-opacity="0.8"><path d="M986.5 767.9L994.1 754.7H978.9Z" fill="none" stroke="#fcc348" stroke-width="1.7"/></g>
<text transform="translate(1002.7 787.9) scale(1.07 1)" font-weight="bold">South Asia</text>
<text transform="translate(1002.7 810.1) scale(1.07 1)">Kusunda</text>
<g stroke-opacity="0.66"><circle cx="987.5" cy="806.2" r="6.6" fill="none" stroke="#c0579f" stroke-width="1.85"/></g>
<text transform="translate(1164.5 476.7) scale(1.07 1)" font-weight="bold">Siberia</text>
<text transform="translate(1165 498.9) scale(1.07 1)">Yakut</text>
<circle cx="1147" cy="494.9" r="6.2" fill="none" stroke="#3a8ecb" stroke-width="1.5"/>
<text transform="translate(1165 521.2) scale(1.07 1)">Aleut</text>
<path d="M1147.8 507.8L1155.2 521.6H1140.4Z" fill="none" stroke="#3a8ecb" stroke-width="1.5"/>
<text transform="translate(1165 543.4) scale(1.07 1)">Yukagir</text>
<path d="M1138.8 536.6H1156.2M1147.5 527.9V545.3" fill="none" stroke="#3a8ecb" stroke-width="1.5"/>
<text transform="translate(1165 565.6) scale(1.07 1)">Chukchi</text>
<path d="M1140.5 553L1153.1 565.6M1140.5 565.6L1153.1 553" fill="none" stroke="#3a8ecb" stroke-width="1.5"/>
<text transform="translate(1165 587.9) scale(1.07 1)">Nganasan</text>
<path d="M1147.5 573.1L1156.2 581.8L1147.5 590.5L1138.8 581.8Z" fill="none" stroke="#3a8ecb" stroke-width="1.5"/>
<text transform="translate(1165 610.1) scale(1.07 1)">Altaian</text>
<path d="M1147.8 612.2L1155.2 598.4H1140.4Z" fill="none" stroke="#3a8ecb" stroke-width="1.5"/>
<text transform="translate(1165 632.3) scale(1.07 1)">Even</text>
<path d="M1142.6 621H1155V633.4H1142.6ZM1142.6 621L1155 633.4M1142.6 633.4L1155 621" fill="none" stroke="#3a8ecb" stroke-width="1.5"/>
<text transform="translate(1165 654.5) scale(1.07 1)">Tubalar</text>
<path d="M1140.2 649.7H1157.4M1148.8 641.1V658.3M1142.8 643.7L1154.8 655.7M1142.8 655.7L1154.8 643.7" fill="none" stroke="#3a8ecb" stroke-width="1.5"/>
<text transform="translate(1165 676.8) scale(1.07 1)">Koryak</text>
<path d="M1148.8 663.6L1157.4 672.2L1148.8 680.8L1140.2 672.2ZM1140.2 672.2H1157.4M1148.8 663.6V680.8" fill="none" stroke="#3a8ecb" stroke-width="1.5"/>
<text transform="translate(1165 699) scale(1.07 1)">Itelmen</text>
<circle cx="1149.3" cy="694.1" r="6.0" fill="none" stroke="#3a8ecb" stroke-width="1.5"/><path d="M1143.3 694.1H1155.3M1149.3 688.1V700.1" fill="none" stroke="#3a8ecb" stroke-width="1.5"/>
<text transform="translate(1165 721.2) scale(1.07 1)">Dolgan</text>
<path d="M1149.3 707.7L1156.9 722.7H1141.7ZM1149.3 724.9L1156.9 709.9H1141.7Z" fill="none" stroke="#3a8ecb" stroke-width="1.5"/>
<text transform="translate(1165 743.5) scale(1.07 1)">Eskimo_Naukan</text>
<path d="M1143 732.7H1155.6V745.3H1143ZM1143 739H1155.6M1149.3 732.7V745.3" fill="none" stroke="#3a8ecb" stroke-width="1.5"/>
<text transform="translate(1166.3 765.7) scale(1.07 1)">Kalmyk</text>
<circle cx="1150.8" cy="760.2" r="7.6" fill="none" stroke="#3a8ecb" stroke-width="1.5"/><path d="M1144.5 753.9L1157.1 766.5M1144.5 766.5L1157.1 753.9" fill="none" stroke="#3a8ecb" stroke-width="1.5"/>
<text transform="translate(1166.3 787.9) scale(1.07 1)">Kyrgyz</text>
<path d="M1146.7 775.8H1159.5V788.6H1146.7ZM1146.7 788.6L1153.1 775.8L1159.5 788.6" fill="none" stroke="#3a8ecb" stroke-width="1.5"/>
<text transform="translate(1166.3 810.1) scale(1.07 1)">Selkup</text>
<rect x="1147.6" y="799" width="12.4" height="12.4" fill="#388ac7"/>
<circle cx="1255.6" cy="494.6" r="6.5" fill="#388ac7"/>
<text transform="translate(1268.3 498.1) scale(1.07 1)">Tuvinian</text>
<path d="M1256.6 510.7L1262.4 516.5L1256.6 522.3L1250.8 516.5Z" fill="#388ac7"/>
<text transform="translate(1268.3 521.4) scale(1.07 1)">Avar</text>
</g>
</svg>
</body></html>
